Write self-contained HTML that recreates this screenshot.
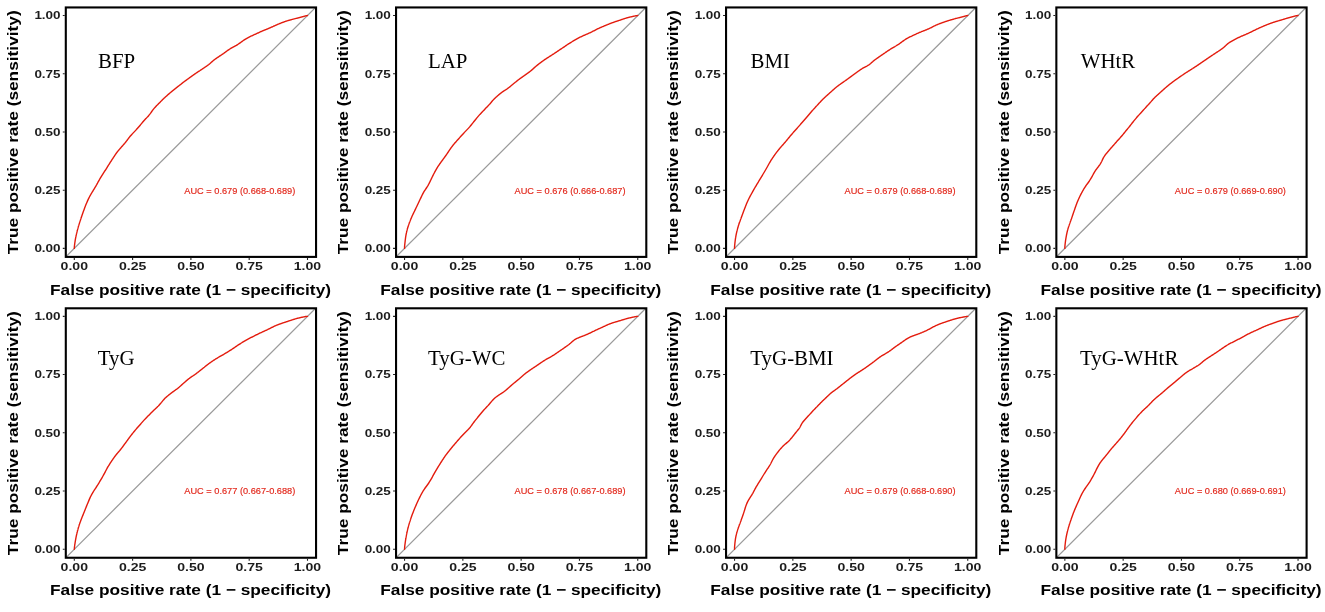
<!DOCTYPE html>
<html><head><meta charset="utf-8"><style>
html,body{margin:0;padding:0;background:#fff;width:1325px;height:612px;overflow:hidden}
svg{display:block;filter:blur(0.4px)}
.tl{font-family:"Liberation Sans",sans-serif;font-weight:bold;fill:#1c1c1c}
.ti{font-family:"Liberation Sans",sans-serif;font-weight:bold;fill:#000}
.lb{font-family:"Liberation Serif",serif;fill:#000}
.au{font-family:"Liberation Sans",sans-serif;fill:#E2261A;stroke:#E2261A;stroke-width:0.15px}
</style></head><body>
<svg width="1325" height="612" viewBox="0 0 1325 612">
<rect width="1325" height="612" fill="#fff"/>

<g transform="translate(0.00,0.00)">
<clipPath id="cp0"><rect x="65.80" y="7.45" width="250.25" height="249.45"/></clipPath>
<g clip-path="url(#cp0)"><line x1="50.98" y1="271.69" x2="330.82" y2="-7.79" stroke="#9A9A9A" stroke-width="1.25"/>
<path d="M74.30,248.40 L74.35,247.24 L74.40,246.44 L74.47,245.77 L74.54,245.15 L74.61,244.57 L74.68,244.03 L74.75,243.50 L74.81,243.00 L74.88,242.52 L74.95,242.05 L75.02,241.60 L75.09,241.15 L75.15,240.72 L75.22,240.30 L75.29,239.89 L75.36,239.48 L75.43,239.08 L75.50,238.69 L75.57,238.31 L75.64,237.94 L75.71,237.56 L75.78,237.20 L75.85,236.84 L75.93,236.49 L76.00,236.14 L76.07,235.79 L76.15,235.45 L76.22,235.12 L76.29,234.78 L76.37,234.45 L76.44,234.13 L76.52,233.81 L76.59,233.49 L76.67,233.17 L76.74,232.86 L76.81,232.55 L76.89,232.25 L76.96,231.94 L77.04,231.64 L77.11,231.34 L77.19,231.04 L77.26,230.75 L77.34,230.46 L77.41,230.17 L77.49,229.88 L77.56,229.60 L77.64,229.31 L77.71,229.03 L77.79,228.75 L77.86,228.47 L77.94,228.20 L78.01,227.92 L78.09,227.65 L78.16,227.38 L78.24,227.11 L78.31,226.85 L78.39,226.58 L78.46,226.32 L78.54,226.05 L78.62,225.79 L78.69,225.54 L78.77,225.28 L78.84,225.02 L78.92,224.77 L79.00,224.52 L79.07,224.27 L79.15,224.02 L79.23,223.77 L79.31,223.52 L79.38,223.27 L79.46,223.03 L79.54,222.79 L79.61,222.54 L79.69,222.30 L79.77,222.06 L79.85,221.82 L79.92,221.59 L80.00,221.35 L80.08,221.11 L80.15,220.88 L80.23,220.65 L80.31,220.41 L80.39,220.18 L80.46,219.95 L80.54,219.72 L80.61,219.49 L80.69,219.26 L80.77,219.03 L80.84,218.80 L80.92,218.58 L81.36,217.27 L81.80,215.99 L82.23,214.73 L82.66,213.50 L83.10,212.28 L83.52,211.08 L83.95,209.91 L84.38,208.75 L84.80,207.60 L85.23,206.48 L85.66,205.37 L86.09,204.28 L86.53,203.22 L86.98,202.17 L87.43,201.14 L87.88,200.13 L88.35,199.14 L88.82,198.17 L89.30,197.22 L89.79,196.29 L90.29,195.38 L90.79,194.48 L91.30,193.61 L91.82,192.75 L92.34,191.90 L92.86,191.05 L93.37,190.22 L93.89,189.39 L94.39,188.56 L94.90,187.74 L95.39,186.91 L95.87,186.08 L96.34,185.25 L96.81,184.42 L97.26,183.58 L97.71,182.75 L98.16,181.93 L98.61,181.11 L99.07,180.30 L99.53,179.50 L99.99,178.72 L100.46,177.94 L100.93,177.17 L101.39,176.41 L101.86,175.65 L102.34,174.90 L102.81,174.15 L103.28,173.41 L103.75,172.68 L104.22,171.95 L104.69,171.23 L105.16,170.50 L105.63,169.79 L106.09,169.07 L106.55,168.35 L107.00,167.63 L107.44,166.91 L107.89,166.18 L108.33,165.47 L108.77,164.75 L109.21,164.04 L109.65,163.34 L110.09,162.64 L110.54,161.95 L110.98,161.26 L111.43,160.58 L111.87,159.90 L112.32,159.22 L112.76,158.54 L113.20,157.86 L113.64,157.19 L114.08,156.52 L114.52,155.86 L114.96,155.20 L115.40,154.55 L115.85,153.90 L116.30,153.26 L116.76,152.64 L117.23,152.02 L117.71,151.42 L118.19,150.82 L118.68,150.24 L119.17,149.66 L119.66,149.08 L120.15,148.51 L120.65,147.94 L121.14,147.37 L121.63,146.81 L122.13,146.25 L122.62,145.70 L123.12,145.14 L123.61,144.59 L124.10,144.03 L124.58,143.48 L125.05,142.91 L125.52,142.34 L125.98,141.77 L126.43,141.19 L126.87,140.61 L127.31,140.02 L127.74,139.44 L128.18,138.85 L128.61,138.27 L129.05,137.69 L129.49,137.12 L129.94,136.56 L130.39,136.01 L130.86,135.47 L131.33,134.94 L131.81,134.42 L132.29,133.90 L132.78,133.39 L133.26,132.89 L133.75,132.38 L134.24,131.88 L134.72,131.37 L135.20,130.87 L135.67,130.36 L136.14,129.85 L136.61,129.34 L137.07,128.82 L137.53,128.31 L137.98,127.79 L138.43,127.27 L138.88,126.75 L139.32,126.23 L139.76,125.70 L140.20,125.18 L140.63,124.65 L141.06,124.13 L141.49,123.60 L141.93,123.08 L142.36,122.56 L142.80,122.05 L143.24,121.54 L143.68,121.04 L144.13,120.54 L144.58,120.05 L145.03,119.56 L145.48,119.07 L145.94,118.59 L146.39,118.11 L146.84,117.63 L147.29,117.14 L147.74,116.66 L148.18,116.17 L148.61,115.67 L149.03,115.17 L149.44,114.66 L149.85,114.14 L150.25,113.62 L150.63,113.09 L151.02,112.55 L151.40,112.02 L151.78,111.48 L152.16,110.95 L152.54,110.42 L152.93,109.90 L153.33,109.39 L153.73,108.89 L154.14,108.40 L154.56,107.91 L154.98,107.43 L155.41,106.96 L155.85,106.50 L156.28,106.04 L156.72,105.58 L157.16,105.13 L157.61,104.68 L158.05,104.24 L158.49,103.79 L158.94,103.34 L159.38,102.90 L159.82,102.45 L160.26,102.01 L160.69,101.56 L161.13,101.12 L161.57,100.68 L162.01,100.24 L162.45,99.80 L162.89,99.37 L163.33,98.94 L163.78,98.51 L164.23,98.09 L164.68,97.67 L165.13,97.25 L165.58,96.84 L166.04,96.42 L166.49,96.01 L166.95,95.61 L167.40,95.20 L167.86,94.80 L168.32,94.40 L168.78,94.00 L169.24,93.60 L169.70,93.21 L170.16,92.82 L170.63,92.43 L171.10,92.04 L171.57,91.66 L172.04,91.28 L172.51,90.91 L172.98,90.53 L173.45,90.16 L173.92,89.78 L174.39,89.41 L174.86,89.03 L175.32,88.66 L175.79,88.28 L176.25,87.91 L176.72,87.53 L177.18,87.16 L177.64,86.79 L178.11,86.42 L178.57,86.05 L179.04,85.68 L179.50,85.31 L179.96,84.95 L180.42,84.58 L180.89,84.22 L181.35,83.85 L181.81,83.49 L182.27,83.13 L182.73,82.77 L183.20,82.41 L183.66,82.06 L184.13,81.70 L184.60,81.36 L185.08,81.01 L185.55,80.67 L186.02,80.32 L186.49,79.98 L186.96,79.64 L187.43,79.30 L187.90,78.95 L188.36,78.61 L188.83,78.27 L189.29,77.92 L189.76,77.58 L190.23,77.24 L190.70,76.91 L191.16,76.57 L191.63,76.24 L192.10,75.91 L192.57,75.58 L193.04,75.25 L193.51,74.92 L193.98,74.59 L194.45,74.27 L194.92,73.94 L195.39,73.61 L195.86,73.29 L196.33,72.97 L196.80,72.65 L197.27,72.33 L197.75,72.01 L198.22,71.70 L198.70,71.39 L199.18,71.08 L199.66,70.78 L200.13,70.47 L200.60,70.15 L201.07,69.84 L201.54,69.53 L202.01,69.21 L202.47,68.90 L202.94,68.58 L203.40,68.27 L203.86,67.95 L204.32,67.64 L204.79,67.33 L205.25,67.02 L205.71,66.71 L206.17,66.39 L206.63,66.08 L207.08,65.76 L207.53,65.44 L207.98,65.12 L208.42,64.79 L208.85,64.46 L209.27,64.12 L209.69,63.77 L210.11,63.42 L210.51,63.06 L210.91,62.70 L211.31,62.34 L211.71,61.98 L212.11,61.62 L212.51,61.26 L212.92,60.91 L213.33,60.56 L213.75,60.23 L214.17,59.89 L214.60,59.56 L215.03,59.24 L215.47,58.93 L215.90,58.61 L216.35,58.30 L216.79,58.00 L217.24,57.70 L217.68,57.39 L218.13,57.10 L218.58,56.80 L219.03,56.50 L219.48,56.21 L219.93,55.91 L220.38,55.62 L220.83,55.33 L221.28,55.03 L221.72,54.74 L222.16,54.44 L222.60,54.14 L223.04,53.84 L223.48,53.54 L223.91,53.23 L224.33,52.92 L224.76,52.61 L225.18,52.30 L225.60,51.99 L226.02,51.68 L226.44,51.36 L226.86,51.05 L227.28,50.75 L227.71,50.44 L228.13,50.14 L228.57,49.85 L229.00,49.56 L229.44,49.27 L229.89,48.99 L230.34,48.72 L230.79,48.44 L231.24,48.18 L231.70,47.91 L232.16,47.65 L232.62,47.39 L233.08,47.14 L233.55,46.88 L234.01,46.63 L234.47,46.37 L234.93,46.12 L235.39,45.86 L235.85,45.61 L236.31,45.35 L236.75,45.08 L237.20,44.81 L237.64,44.54 L238.07,44.27 L238.50,43.99 L238.93,43.70 L239.35,43.41 L239.76,43.12 L240.17,42.83 L240.58,42.53 L240.99,42.23 L241.40,41.94 L241.80,41.64 L242.21,41.34 L242.62,41.05 L243.03,40.76 L243.44,40.47 L243.85,40.18 L244.27,39.90 L244.69,39.63 L245.12,39.35 L245.54,39.09 L245.98,38.82 L246.41,38.56 L246.85,38.31 L247.29,38.06 L247.74,37.82 L248.19,37.57 L248.65,37.34 L249.11,37.11 L249.57,36.88 L250.03,36.65 L250.49,36.43 L250.96,36.21 L251.42,35.99 L251.89,35.77 L252.36,35.55 L252.82,35.33 L253.29,35.12 L253.76,34.90 L254.23,34.69 L254.69,34.48 L255.16,34.26 L255.63,34.05 L256.09,33.84 L256.56,33.62 L257.02,33.41 L257.49,33.20 L257.95,32.99 L258.41,32.77 L258.87,32.56 L259.33,32.35 L259.79,32.14 L260.25,31.93 L260.72,31.72 L261.18,31.51 L261.64,31.31 L262.11,31.10 L262.57,30.90 L263.04,30.70 L263.51,30.51 L263.98,30.31 L264.45,30.12 L264.92,29.93 L265.39,29.73 L265.87,29.55 L266.34,29.36 L266.81,29.17 L267.28,28.98 L267.75,28.79 L268.21,28.60 L268.68,28.40 L269.14,28.21 L269.60,28.01 L270.06,27.82 L270.51,27.62 L270.96,27.41 L271.41,27.21 L271.86,27.01 L272.31,26.80 L272.75,26.60 L273.20,26.40 L273.64,26.19 L274.09,25.99 L274.53,25.79 L274.98,25.59 L275.42,25.39 L275.87,25.19 L276.32,25.00 L276.76,24.80 L277.21,24.61 L277.66,24.42 L278.11,24.23 L278.56,24.04 L279.01,23.86 L279.47,23.67 L279.92,23.49 L280.37,23.31 L280.83,23.12 L281.28,22.95 L281.74,22.77 L282.20,22.59 L282.65,22.42 L283.11,22.25 L283.57,22.08 L284.03,21.91 L284.50,21.75 L284.96,21.59 L285.42,21.43 L285.89,21.27 L286.36,21.12 L286.83,20.96 L287.30,20.81 L287.77,20.66 L288.25,20.52 L288.72,20.38 L289.20,20.24 L289.68,20.10 L290.16,19.96 L290.64,19.83 L291.12,19.70 L291.60,19.57 L292.08,19.44 L292.57,19.31 L293.05,19.18 L293.53,19.06 L294.02,18.93 L294.50,18.81 L294.98,18.69 L295.46,18.56 L295.94,18.44 L296.42,18.32 L296.90,18.20 L297.37,18.08 L297.85,17.95 L298.32,17.83 L298.79,17.71 L299.26,17.58 L299.73,17.46 L300.19,17.34 L300.66,17.21 L301.12,17.09 L301.58,16.97 L302.04,16.84 L302.50,16.72 L302.96,16.60 L303.42,16.48 L303.87,16.36 L304.33,16.24 L304.78,16.12 L305.24,16.01 L305.69,15.90 L306.14,15.79 L306.60,15.69 L307.05,15.59 L307.50,15.50 L307.50,15.50" fill="none" stroke="#E31B0D" stroke-width="1.4" stroke-linejoin="round" stroke-linecap="round"/></g>
<rect x="65.80" y="7.45" width="250.25" height="249.45" fill="none" stroke="#000" stroke-width="2.1"/>
<path d="M74.30,257.95V259.90M64.75,248.40H62.80M132.60,257.95V259.90M64.75,190.18H62.80M190.90,257.95V259.90M64.75,131.95H62.80M249.20,257.95V259.90M64.75,73.72H62.80M307.50,257.95V259.90M64.75,15.50H62.80" stroke="#222" stroke-width="1.1"/>
<text class="tl" x="74.30" y="270.2" font-size="11.4" text-anchor="middle" textLength="27.4" lengthAdjust="spacingAndGlyphs">0.00</text>
<text class="tl" x="60.6" y="252.20" font-size="11.4" text-anchor="end" textLength="26.2" lengthAdjust="spacingAndGlyphs">0.00</text>
<text class="tl" x="132.60" y="270.2" font-size="11.4" text-anchor="middle" textLength="27.4" lengthAdjust="spacingAndGlyphs">0.25</text>
<text class="tl" x="60.6" y="193.98" font-size="11.4" text-anchor="end" textLength="26.2" lengthAdjust="spacingAndGlyphs">0.25</text>
<text class="tl" x="190.90" y="270.2" font-size="11.4" text-anchor="middle" textLength="27.4" lengthAdjust="spacingAndGlyphs">0.50</text>
<text class="tl" x="60.6" y="135.75" font-size="11.4" text-anchor="end" textLength="26.2" lengthAdjust="spacingAndGlyphs">0.50</text>
<text class="tl" x="249.20" y="270.2" font-size="11.4" text-anchor="middle" textLength="27.4" lengthAdjust="spacingAndGlyphs">0.75</text>
<text class="tl" x="60.6" y="77.52" font-size="11.4" text-anchor="end" textLength="26.2" lengthAdjust="spacingAndGlyphs">0.75</text>
<text class="tl" x="307.50" y="270.2" font-size="11.4" text-anchor="middle" textLength="27.4" lengthAdjust="spacingAndGlyphs">1.00</text>
<text class="tl" x="60.6" y="19.30" font-size="11.4" text-anchor="end" textLength="26.2" lengthAdjust="spacingAndGlyphs">1.00</text>
<text class="ti" x="190.5" y="294.6" font-size="15.4" text-anchor="middle" textLength="281" lengthAdjust="spacingAndGlyphs">False positive rate (1 &#8722; specificity)</text>
<text class="ti" transform="translate(18.1,132.3) rotate(-90)" x="0" y="0" font-size="14.8" text-anchor="middle" textLength="244" lengthAdjust="spacingAndGlyphs">True positive rate (sensitivity)</text>
<text class="au" x="184.3" y="193.6" font-size="8.9" textLength="111" lengthAdjust="spacingAndGlyphs">AUC = 0.679 (0.668-0.689)</text>
</g>
<text class="lb" x="98.00" y="68.00" font-size="20.9">BFP</text>
<g transform="translate(330.25,0.00)">
<clipPath id="cp1"><rect x="65.80" y="7.45" width="250.25" height="249.45"/></clipPath>
<g clip-path="url(#cp1)"><line x1="50.98" y1="271.69" x2="330.82" y2="-7.79" stroke="#9A9A9A" stroke-width="1.25"/>
<path d="M74.30,248.40 L74.31,247.29 L74.32,246.50 L74.38,245.85 L74.44,245.25 L74.50,244.69 L74.55,244.16 L74.61,243.65 L74.66,243.15 L74.72,242.68 L74.77,242.21 L74.82,241.76 L74.87,241.31 L74.92,240.88 L74.97,240.45 L75.02,240.03 L75.07,239.62 L75.12,239.22 L75.17,238.82 L75.22,238.43 L75.27,238.05 L75.32,237.67 L75.38,237.30 L75.43,236.93 L75.48,236.57 L75.54,236.21 L75.60,235.86 L75.65,235.51 L75.71,235.17 L75.77,234.84 L75.84,234.50 L75.90,234.18 L75.96,233.85 L76.02,233.53 L76.09,233.21 L76.16,232.90 L76.22,232.59 L76.29,232.29 L76.36,231.98 L76.43,231.68 L76.50,231.39 L76.57,231.09 L76.64,230.80 L76.71,230.52 L76.79,230.23 L76.86,229.95 L76.93,229.67 L77.01,229.39 L77.08,229.12 L77.16,228.84 L77.24,228.57 L77.31,228.31 L77.39,228.04 L77.47,227.78 L77.55,227.52 L77.63,227.26 L77.71,227.00 L77.79,226.74 L77.87,226.49 L77.95,226.24 L78.03,225.99 L78.11,225.74 L78.19,225.49 L78.28,225.25 L78.36,225.00 L78.44,224.76 L78.52,224.52 L78.61,224.28 L78.69,224.05 L78.77,223.81 L78.86,223.57 L78.94,223.34 L79.03,223.11 L79.11,222.88 L79.19,222.65 L79.28,222.42 L79.36,222.19 L79.45,221.97 L79.53,221.74 L79.62,221.52 L79.71,221.30 L79.79,221.08 L79.88,220.86 L79.96,220.64 L80.05,220.42 L80.14,220.20 L80.22,219.99 L80.31,219.77 L80.40,219.56 L80.48,219.34 L80.57,219.13 L81.08,217.92 L81.60,216.73 L82.12,215.57 L82.64,214.44 L83.17,213.34 L83.70,212.26 L84.22,211.19 L84.74,210.13 L85.25,209.09 L85.75,208.04 L86.24,207.01 L86.73,205.98 L87.20,204.96 L87.68,203.95 L88.15,202.95 L88.62,201.96 L89.08,200.98 L89.55,200.01 L90.01,199.05 L90.47,198.09 L90.92,197.14 L91.37,196.20 L91.82,195.27 L92.27,194.35 L92.74,193.44 L93.22,192.57 L93.71,191.72 L94.23,190.89 L94.76,190.09 L95.29,189.30 L95.83,188.52 L96.35,187.74 L96.87,186.95 L97.36,186.14 L97.83,185.33 L98.28,184.50 L98.73,183.67 L99.16,182.83 L99.58,181.99 L99.99,181.15 L100.40,180.31 L100.80,179.47 L101.20,178.63 L101.60,177.80 L102.00,176.97 L102.40,176.15 L102.80,175.34 L103.21,174.53 L103.62,173.74 L104.04,172.96 L104.45,172.18 L104.87,171.41 L105.29,170.64 L105.72,169.88 L106.14,169.13 L106.58,168.39 L107.02,167.66 L107.46,166.95 L107.92,166.24 L108.38,165.55 L108.85,164.86 L109.32,164.19 L109.79,163.52 L110.26,162.85 L110.74,162.19 L111.21,161.53 L111.69,160.88 L112.16,160.23 L112.63,159.58 L113.10,158.94 L113.57,158.29 L114.04,157.65 L114.51,157.01 L114.97,156.37 L115.43,155.73 L115.88,155.09 L116.33,154.44 L116.77,153.80 L117.21,153.15 L117.65,152.50 L118.08,151.85 L118.51,151.20 L118.93,150.56 L119.36,149.91 L119.79,149.28 L120.23,148.65 L120.66,148.02 L121.11,147.41 L121.56,146.80 L122.02,146.20 L122.48,145.61 L122.94,145.03 L123.41,144.46 L123.89,143.89 L124.37,143.33 L124.85,142.77 L125.33,142.22 L125.82,141.67 L126.30,141.13 L126.79,140.59 L127.28,140.05 L127.76,139.52 L128.24,138.98 L128.72,138.44 L129.20,137.90 L129.68,137.36 L130.15,136.83 L130.63,136.30 L131.10,135.77 L131.58,135.24 L132.05,134.71 L132.53,134.19 L133.01,133.67 L133.49,133.16 L133.96,132.64 L134.44,132.13 L134.93,131.63 L135.41,131.12 L135.89,130.62 L136.38,130.13 L136.86,129.63 L137.34,129.13 L137.82,128.63 L138.29,128.13 L138.75,127.62 L139.21,127.11 L139.66,126.59 L140.10,126.07 L140.53,125.54 L140.96,125.01 L141.39,124.47 L141.81,123.93 L142.23,123.40 L142.65,122.87 L143.07,122.33 L143.49,121.81 L143.91,121.28 L144.34,120.75 L144.76,120.23 L145.18,119.71 L145.60,119.19 L146.02,118.67 L146.44,118.15 L146.86,117.63 L147.28,117.12 L147.71,116.61 L148.13,116.11 L148.57,115.61 L149.00,115.12 L149.44,114.63 L149.89,114.15 L150.33,113.68 L150.78,113.21 L151.24,112.74 L151.69,112.27 L152.14,111.81 L152.59,111.34 L153.03,110.87 L153.48,110.41 L153.92,109.94 L154.35,109.47 L154.79,109.00 L155.23,108.53 L155.67,108.07 L156.12,107.61 L156.56,107.15 L157.00,106.69 L157.45,106.24 L157.89,105.78 L158.32,105.33 L158.76,104.86 L159.18,104.40 L159.60,103.92 L160.01,103.45 L160.41,102.96 L160.82,102.48 L161.22,101.99 L161.62,101.51 L162.02,101.03 L162.43,100.56 L162.85,100.10 L163.27,99.64 L163.70,99.19 L164.14,98.76 L164.58,98.33 L165.03,97.90 L165.48,97.48 L165.94,97.07 L166.40,96.66 L166.86,96.26 L167.32,95.85 L167.78,95.45 L168.25,95.05 L168.71,94.65 L169.18,94.26 L169.65,93.86 L170.12,93.48 L170.60,93.10 L171.08,92.72 L171.56,92.35 L172.06,91.99 L172.56,91.64 L173.07,91.30 L173.58,90.96 L174.10,90.63 L174.62,90.31 L175.14,89.98 L175.66,89.66 L176.18,89.32 L176.68,88.99 L177.18,88.64 L177.67,88.29 L178.15,87.94 L178.62,87.57 L179.09,87.20 L179.55,86.83 L180.01,86.45 L180.47,86.07 L180.92,85.69 L181.37,85.32 L181.82,84.94 L182.27,84.56 L182.73,84.18 L183.18,83.81 L183.63,83.43 L184.08,83.06 L184.54,82.69 L184.99,82.32 L185.45,81.96 L185.90,81.59 L186.36,81.23 L186.82,80.87 L187.28,80.51 L187.74,80.16 L188.20,79.81 L188.66,79.45 L189.12,79.11 L189.59,78.76 L190.06,78.42 L190.53,78.08 L191.00,77.74 L191.47,77.41 L191.95,77.07 L192.42,76.74 L192.89,76.41 L193.37,76.08 L193.84,75.75 L194.31,75.42 L194.78,75.09 L195.24,74.76 L195.71,74.43 L196.18,74.09 L196.64,73.76 L197.11,73.43 L197.57,73.10 L198.03,72.77 L198.49,72.44 L198.95,72.10 L199.40,71.76 L199.85,71.42 L200.29,71.07 L200.72,70.72 L201.15,70.36 L201.57,70.00 L201.99,69.63 L202.40,69.26 L202.81,68.89 L203.21,68.51 L203.62,68.13 L204.02,67.76 L204.43,67.38 L204.84,67.02 L205.25,66.65 L205.66,66.29 L206.09,65.94 L206.51,65.59 L206.94,65.24 L207.37,64.90 L207.80,64.57 L208.24,64.23 L208.67,63.90 L209.11,63.56 L209.54,63.23 L209.98,62.90 L210.42,62.57 L210.85,62.24 L211.29,61.91 L211.73,61.59 L212.17,61.27 L212.61,60.95 L213.05,60.63 L213.50,60.32 L213.95,60.01 L214.40,59.70 L214.85,59.39 L215.30,59.09 L215.76,58.79 L216.21,58.49 L216.67,58.20 L217.13,57.90 L217.59,57.61 L218.05,57.32 L218.51,57.03 L218.96,56.74 L219.42,56.44 L219.88,56.15 L220.33,55.86 L220.78,55.57 L221.23,55.28 L221.69,54.98 L222.14,54.69 L222.58,54.40 L223.03,54.10 L223.48,53.81 L223.93,53.52 L224.37,53.22 L224.81,52.93 L225.26,52.63 L225.70,52.34 L226.14,52.05 L226.58,51.75 L227.02,51.46 L227.46,51.16 L227.90,50.87 L228.33,50.58 L228.77,50.28 L229.21,49.99 L229.65,49.70 L230.09,49.41 L230.52,49.12 L230.96,48.83 L231.40,48.54 L231.83,48.26 L232.27,47.97 L232.70,47.68 L233.14,47.39 L233.57,47.10 L234.00,46.81 L234.42,46.52 L234.85,46.22 L235.28,45.93 L235.70,45.64 L236.12,45.35 L236.55,45.05 L236.97,44.77 L237.40,44.48 L237.83,44.19 L238.26,43.91 L238.69,43.63 L239.13,43.36 L239.56,43.08 L240.00,42.81 L240.44,42.54 L240.88,42.28 L241.32,42.01 L241.77,41.75 L242.21,41.49 L242.65,41.22 L243.09,40.96 L243.54,40.70 L243.98,40.45 L244.42,40.19 L244.87,39.93 L245.31,39.68 L245.76,39.42 L246.20,39.17 L246.64,38.91 L247.09,38.66 L247.54,38.42 L247.99,38.17 L248.44,37.93 L248.89,37.69 L249.35,37.45 L249.80,37.22 L250.26,36.99 L250.73,36.76 L251.19,36.54 L251.66,36.32 L252.13,36.10 L252.61,35.88 L253.08,35.67 L253.55,35.46 L254.03,35.25 L254.51,35.05 L254.98,34.84 L255.46,34.64 L255.94,34.43 L256.41,34.23 L256.89,34.02 L257.36,33.82 L257.83,33.61 L258.30,33.40 L258.77,33.19 L259.24,32.98 L259.70,32.77 L260.16,32.56 L260.62,32.34 L261.07,32.12 L261.52,31.90 L261.97,31.68 L262.41,31.45 L262.85,31.22 L263.29,30.99 L263.72,30.76 L264.16,30.53 L264.60,30.30 L265.03,30.07 L265.47,29.84 L265.90,29.61 L266.34,29.39 L266.78,29.17 L267.23,28.95 L267.67,28.74 L268.12,28.52 L268.57,28.32 L269.02,28.11 L269.48,27.91 L269.93,27.71 L270.39,27.51 L270.84,27.31 L271.30,27.11 L271.76,26.92 L272.22,26.72 L272.67,26.53 L273.13,26.34 L273.59,26.14 L274.05,25.95 L274.50,25.76 L274.96,25.57 L275.42,25.38 L275.87,25.19 L276.33,25.00 L276.78,24.81 L277.24,24.63 L277.69,24.44 L278.15,24.25 L278.60,24.07 L279.06,23.89 L279.51,23.70 L279.97,23.52 L280.43,23.34 L280.89,23.17 L281.35,22.99 L281.81,22.82 L282.27,22.65 L282.74,22.49 L283.20,22.32 L283.67,22.16 L284.14,22.00 L284.61,21.84 L285.08,21.69 L285.55,21.53 L286.03,21.38 L286.50,21.23 L286.97,21.08 L287.44,20.92 L287.91,20.77 L288.37,20.62 L288.84,20.46 L289.30,20.31 L289.76,20.15 L290.22,20.00 L290.68,19.84 L291.13,19.68 L291.59,19.52 L292.04,19.37 L292.50,19.21 L292.95,19.05 L293.40,18.90 L293.86,18.75 L294.31,18.60 L294.77,18.45 L295.23,18.30 L295.69,18.16 L296.15,18.03 L296.62,17.89 L297.08,17.76 L297.55,17.63 L298.03,17.51 L298.50,17.39 L298.97,17.27 L299.45,17.16 L299.92,17.04 L300.40,16.93 L300.88,16.82 L301.35,16.72 L301.83,16.61 L302.31,16.50 L302.78,16.40 L303.25,16.30 L303.72,16.19 L304.19,16.09 L304.66,15.99 L305.13,15.89 L305.59,15.79 L306.07,15.71 L306.55,15.64 L307.03,15.57 L307.50,15.50 L307.50,15.50" fill="none" stroke="#E31B0D" stroke-width="1.4" stroke-linejoin="round" stroke-linecap="round"/></g>
<rect x="65.80" y="7.45" width="250.25" height="249.45" fill="none" stroke="#000" stroke-width="2.1"/>
<path d="M74.30,257.95V259.90M64.75,248.40H62.80M132.60,257.95V259.90M64.75,190.18H62.80M190.90,257.95V259.90M64.75,131.95H62.80M249.20,257.95V259.90M64.75,73.72H62.80M307.50,257.95V259.90M64.75,15.50H62.80" stroke="#222" stroke-width="1.1"/>
<text class="tl" x="74.30" y="270.2" font-size="11.4" text-anchor="middle" textLength="27.4" lengthAdjust="spacingAndGlyphs">0.00</text>
<text class="tl" x="60.6" y="252.20" font-size="11.4" text-anchor="end" textLength="26.2" lengthAdjust="spacingAndGlyphs">0.00</text>
<text class="tl" x="132.60" y="270.2" font-size="11.4" text-anchor="middle" textLength="27.4" lengthAdjust="spacingAndGlyphs">0.25</text>
<text class="tl" x="60.6" y="193.98" font-size="11.4" text-anchor="end" textLength="26.2" lengthAdjust="spacingAndGlyphs">0.25</text>
<text class="tl" x="190.90" y="270.2" font-size="11.4" text-anchor="middle" textLength="27.4" lengthAdjust="spacingAndGlyphs">0.50</text>
<text class="tl" x="60.6" y="135.75" font-size="11.4" text-anchor="end" textLength="26.2" lengthAdjust="spacingAndGlyphs">0.50</text>
<text class="tl" x="249.20" y="270.2" font-size="11.4" text-anchor="middle" textLength="27.4" lengthAdjust="spacingAndGlyphs">0.75</text>
<text class="tl" x="60.6" y="77.52" font-size="11.4" text-anchor="end" textLength="26.2" lengthAdjust="spacingAndGlyphs">0.75</text>
<text class="tl" x="307.50" y="270.2" font-size="11.4" text-anchor="middle" textLength="27.4" lengthAdjust="spacingAndGlyphs">1.00</text>
<text class="tl" x="60.6" y="19.30" font-size="11.4" text-anchor="end" textLength="26.2" lengthAdjust="spacingAndGlyphs">1.00</text>
<text class="ti" x="190.5" y="294.6" font-size="15.4" text-anchor="middle" textLength="281" lengthAdjust="spacingAndGlyphs">False positive rate (1 &#8722; specificity)</text>
<text class="ti" transform="translate(18.1,132.3) rotate(-90)" x="0" y="0" font-size="14.8" text-anchor="middle" textLength="244" lengthAdjust="spacingAndGlyphs">True positive rate (sensitivity)</text>
<text class="au" x="184.3" y="193.6" font-size="8.9" textLength="111" lengthAdjust="spacingAndGlyphs">AUC = 0.676 (0.666-0.687)</text>
</g>
<text class="lb" x="427.90" y="68.10" font-size="20.9">LAP</text>
<g transform="translate(660.25,0.00)">
<clipPath id="cp2"><rect x="65.80" y="7.45" width="250.25" height="249.45"/></clipPath>
<g clip-path="url(#cp2)"><line x1="50.98" y1="271.69" x2="330.82" y2="-7.79" stroke="#9A9A9A" stroke-width="1.25"/>
<path d="M74.30,248.40 L74.31,247.14 L74.35,246.29 L74.41,245.59 L74.47,244.94 L74.53,244.34 L74.59,243.77 L74.64,243.22 L74.70,242.70 L74.76,242.19 L74.82,241.71 L74.88,241.23 L74.93,240.77 L74.99,240.32 L75.05,239.87 L75.11,239.44 L75.17,239.02 L75.23,238.61 L75.29,238.20 L75.35,237.80 L75.42,237.41 L75.48,237.02 L75.54,236.65 L75.61,236.27 L75.67,235.91 L75.74,235.54 L75.81,235.19 L75.88,234.84 L75.94,234.49 L76.01,234.15 L76.08,233.81 L76.15,233.48 L76.22,233.15 L76.30,232.82 L76.37,232.50 L76.44,232.18 L76.51,231.86 L76.59,231.55 L76.66,231.24 L76.74,230.94 L76.81,230.64 L76.89,230.34 L76.96,230.04 L77.04,229.74 L77.11,229.45 L77.19,229.16 L77.27,228.88 L77.35,228.59 L77.42,228.31 L77.50,228.03 L77.58,227.76 L77.66,227.48 L77.74,227.21 L77.82,226.94 L77.90,226.67 L77.98,226.40 L78.06,226.14 L78.14,225.88 L78.22,225.61 L78.31,225.36 L78.39,225.10 L78.47,224.84 L78.55,224.59 L78.63,224.34 L78.72,224.09 L78.80,223.84 L78.88,223.59 L78.96,223.34 L79.05,223.10 L79.13,222.85 L79.21,222.61 L79.29,222.37 L79.38,222.13 L79.46,221.89 L79.54,221.65 L79.63,221.42 L79.71,221.18 L79.79,220.95 L79.88,220.72 L79.96,220.48 L80.04,220.25 L80.13,220.02 L80.21,219.80 L80.29,219.57 L80.37,219.34 L80.46,219.11 L80.54,218.89 L80.62,218.67 L80.70,218.44 L80.79,218.22 L80.87,218.00 L81.35,216.72 L81.82,215.46 L82.28,214.22 L82.74,213.00 L83.19,211.80 L83.64,210.62 L84.08,209.45 L84.51,208.29 L84.95,207.15 L85.39,206.03 L85.82,204.93 L86.27,203.85 L86.72,202.79 L87.17,201.75 L87.64,200.73 L88.11,199.73 L88.59,198.76 L89.07,197.80 L89.56,196.85 L90.05,195.92 L90.55,195.01 L91.05,194.11 L91.54,193.21 L92.04,192.33 L92.53,191.45 L93.02,190.58 L93.50,189.71 L93.99,188.86 L94.48,188.01 L94.97,187.17 L95.46,186.34 L95.95,185.52 L96.44,184.71 L96.93,183.90 L97.42,183.10 L97.90,182.30 L98.38,181.50 L98.85,180.71 L99.33,179.92 L99.80,179.14 L100.27,178.35 L100.73,177.58 L101.20,176.81 L101.66,176.04 L102.12,175.27 L102.58,174.51 L103.04,173.75 L103.49,173.00 L103.94,172.24 L104.39,171.49 L104.83,170.74 L105.27,169.99 L105.70,169.24 L106.13,168.49 L106.56,167.74 L106.98,166.99 L107.39,166.24 L107.80,165.49 L108.21,164.74 L108.62,163.99 L109.03,163.26 L109.45,162.53 L109.87,161.81 L110.30,161.11 L110.74,160.41 L111.17,159.72 L111.62,159.04 L112.06,158.37 L112.51,157.70 L112.96,157.03 L113.41,156.38 L113.86,155.72 L114.32,155.08 L114.78,154.44 L115.24,153.80 L115.70,153.17 L116.16,152.55 L116.63,151.93 L117.11,151.32 L117.58,150.72 L118.06,150.12 L118.54,149.53 L119.02,148.95 L119.51,148.36 L119.99,147.79 L120.48,147.22 L120.97,146.65 L121.46,146.09 L121.96,145.53 L122.46,144.98 L122.95,144.43 L123.44,143.88 L123.93,143.33 L124.42,142.78 L124.90,142.22 L125.37,141.66 L125.84,141.10 L126.30,140.54 L126.76,139.98 L127.22,139.41 L127.68,138.85 L128.14,138.29 L128.59,137.73 L129.05,137.18 L129.50,136.62 L129.96,136.07 L130.42,135.53 L130.88,134.99 L131.34,134.45 L131.80,133.92 L132.27,133.39 L132.73,132.86 L133.20,132.33 L133.66,131.81 L134.13,131.29 L134.59,130.77 L135.05,130.25 L135.51,129.73 L135.97,129.21 L136.43,128.69 L136.89,128.18 L137.34,127.66 L137.80,127.15 L138.25,126.64 L138.71,126.12 L139.16,125.61 L139.61,125.10 L140.06,124.59 L140.51,124.09 L140.95,123.58 L141.40,123.07 L141.85,122.56 L142.29,122.06 L142.73,121.55 L143.18,121.05 L143.62,120.55 L144.06,120.05 L144.50,119.55 L144.93,119.04 L145.37,118.54 L145.80,118.04 L146.23,117.54 L146.66,117.04 L147.09,116.54 L147.52,116.03 L147.94,115.53 L148.37,115.03 L148.79,114.54 L149.21,114.04 L149.64,113.54 L150.06,113.04 L150.47,112.55 L150.89,112.05 L151.31,111.56 L151.73,111.06 L152.15,110.57 L152.57,110.09 L153.00,109.61 L153.42,109.13 L153.85,108.66 L154.28,108.18 L154.72,107.72 L155.15,107.25 L155.58,106.78 L156.01,106.32 L156.44,105.85 L156.87,105.39 L157.29,104.92 L157.72,104.46 L158.15,104.00 L158.57,103.54 L159.00,103.08 L159.42,102.62 L159.84,102.16 L160.27,101.70 L160.69,101.25 L161.12,100.79 L161.55,100.35 L161.98,99.90 L162.42,99.47 L162.86,99.03 L163.30,98.61 L163.75,98.18 L164.20,97.76 L164.65,97.34 L165.10,96.93 L165.55,96.52 L166.00,96.10 L166.45,95.69 L166.91,95.28 L167.36,94.88 L167.81,94.47 L168.26,94.06 L168.71,93.66 L169.16,93.26 L169.61,92.85 L170.06,92.45 L170.51,92.05 L170.96,91.65 L171.41,91.25 L171.85,90.84 L172.30,90.44 L172.74,90.04 L173.18,89.64 L173.63,89.25 L174.07,88.85 L174.52,88.46 L174.97,88.07 L175.42,87.68 L175.88,87.30 L176.34,86.93 L176.81,86.56 L177.27,86.20 L177.75,85.84 L178.22,85.49 L178.70,85.14 L179.19,84.79 L179.67,84.45 L180.16,84.11 L180.64,83.77 L181.13,83.43 L181.61,83.09 L182.09,82.75 L182.57,82.41 L183.05,82.07 L183.53,81.73 L184.01,81.39 L184.49,81.05 L184.97,80.72 L185.44,80.38 L185.92,80.05 L186.40,79.71 L186.87,79.38 L187.35,79.04 L187.82,78.70 L188.29,78.36 L188.75,78.02 L189.22,77.68 L189.68,77.34 L190.14,77.00 L190.60,76.66 L191.06,76.32 L191.52,75.98 L191.98,75.64 L192.44,75.30 L192.90,74.96 L193.36,74.62 L193.82,74.28 L194.27,73.95 L194.73,73.61 L195.19,73.28 L195.65,72.94 L196.10,72.61 L196.56,72.28 L197.02,71.95 L197.48,71.62 L197.94,71.29 L198.40,70.97 L198.86,70.65 L199.33,70.33 L199.79,70.01 L200.26,69.70 L200.73,69.38 L201.20,69.08 L201.67,68.77 L202.15,68.47 L202.64,68.18 L203.12,67.89 L203.62,67.61 L204.12,67.34 L204.62,67.07 L205.13,66.81 L205.64,66.54 L206.15,66.28 L206.66,66.02 L207.15,65.75 L207.64,65.47 L208.12,65.17 L208.58,64.87 L209.03,64.56 L209.47,64.23 L209.89,63.89 L210.31,63.55 L210.71,63.19 L211.12,62.83 L211.52,62.47 L211.91,62.11 L212.32,61.76 L212.72,61.40 L213.13,61.06 L213.54,60.72 L213.96,60.38 L214.39,60.06 L214.82,59.73 L215.25,59.41 L215.69,59.10 L216.12,58.78 L216.56,58.47 L217.00,58.16 L217.44,57.85 L217.88,57.55 L218.32,57.24 L218.76,56.94 L219.20,56.63 L219.64,56.33 L220.08,56.02 L220.51,55.72 L220.95,55.42 L221.39,55.12 L221.83,54.82 L222.27,54.52 L222.71,54.22 L223.15,53.92 L223.58,53.62 L224.02,53.32 L224.45,53.02 L224.89,52.73 L225.32,52.43 L225.75,52.13 L226.19,51.83 L226.62,51.53 L227.05,51.24 L227.49,50.95 L227.93,50.66 L228.36,50.37 L228.80,50.08 L229.25,49.80 L229.69,49.52 L230.13,49.24 L230.58,48.96 L231.02,48.68 L231.47,48.41 L231.92,48.14 L232.37,47.87 L232.82,47.60 L233.27,47.33 L233.72,47.07 L234.17,46.80 L234.63,46.54 L235.08,46.27 L235.53,46.01 L235.98,45.75 L236.42,45.48 L236.86,45.21 L237.30,44.94 L237.74,44.67 L238.17,44.39 L238.59,44.10 L239.02,43.82 L239.43,43.52 L239.84,43.23 L240.25,42.93 L240.66,42.63 L241.06,42.33 L241.46,42.03 L241.86,41.73 L242.27,41.44 L242.67,41.14 L243.08,40.85 L243.49,40.56 L243.90,40.27 L244.31,39.99 L244.73,39.71 L245.15,39.43 L245.58,39.16 L246.01,38.90 L246.44,38.64 L246.88,38.38 L247.33,38.14 L247.77,37.89 L248.22,37.65 L248.68,37.42 L249.14,37.18 L249.59,36.96 L250.06,36.73 L250.52,36.51 L250.98,36.28 L251.45,36.06 L251.92,35.85 L252.38,35.63 L252.85,35.41 L253.31,35.19 L253.78,34.98 L254.24,34.76 L254.71,34.55 L255.17,34.33 L255.64,34.12 L256.10,33.90 L256.56,33.69 L257.03,33.48 L257.49,33.27 L257.96,33.06 L258.43,32.85 L258.90,32.65 L259.37,32.45 L259.84,32.25 L260.31,32.05 L260.79,31.86 L261.26,31.66 L261.74,31.47 L262.22,31.28 L262.70,31.09 L263.17,30.90 L263.65,30.72 L264.13,30.53 L264.61,30.35 L265.09,30.16 L265.56,29.97 L266.04,29.79 L266.51,29.60 L266.98,29.41 L267.45,29.21 L267.91,29.02 L268.36,28.82 L268.82,28.61 L269.27,28.41 L269.71,28.19 L270.15,27.98 L270.59,27.76 L271.02,27.54 L271.45,27.32 L271.88,27.10 L272.31,26.88 L272.74,26.66 L273.16,26.44 L273.60,26.22 L274.03,26.00 L274.46,25.79 L274.90,25.58 L275.34,25.38 L275.78,25.17 L276.22,24.98 L276.67,24.78 L277.12,24.59 L277.57,24.40 L278.02,24.21 L278.48,24.03 L278.94,23.85 L279.39,23.67 L279.85,23.49 L280.32,23.32 L280.78,23.14 L281.24,22.97 L281.71,22.81 L282.17,22.64 L282.64,22.48 L283.11,22.31 L283.57,22.15 L284.04,21.99 L284.51,21.83 L284.98,21.67 L285.45,21.52 L285.92,21.36 L286.39,21.21 L286.86,21.05 L287.33,20.90 L287.80,20.75 L288.27,20.60 L288.74,20.45 L289.21,20.31 L289.68,20.16 L290.16,20.02 L290.63,19.88 L291.10,19.74 L291.58,19.60 L292.06,19.46 L292.53,19.33 L293.01,19.20 L293.49,19.06 L293.97,18.93 L294.44,18.81 L294.92,18.68 L295.40,18.55 L295.88,18.43 L296.36,18.31 L296.84,18.18 L297.31,18.06 L297.79,17.94 L298.27,17.82 L298.74,17.70 L299.21,17.57 L299.68,17.45 L300.15,17.33 L300.62,17.21 L301.09,17.09 L301.55,16.97 L302.02,16.84 L302.48,16.72 L302.94,16.60 L303.40,16.48 L303.86,16.36 L304.31,16.24 L304.77,16.13 L305.23,16.01 L305.68,15.90 L306.14,15.79 L306.59,15.69 L307.05,15.59 L307.50,15.50 L307.50,15.50" fill="none" stroke="#E31B0D" stroke-width="1.4" stroke-linejoin="round" stroke-linecap="round"/></g>
<rect x="65.80" y="7.45" width="250.25" height="249.45" fill="none" stroke="#000" stroke-width="2.1"/>
<path d="M74.30,257.95V259.90M64.75,248.40H62.80M132.60,257.95V259.90M64.75,190.18H62.80M190.90,257.95V259.90M64.75,131.95H62.80M249.20,257.95V259.90M64.75,73.72H62.80M307.50,257.95V259.90M64.75,15.50H62.80" stroke="#222" stroke-width="1.1"/>
<text class="tl" x="74.30" y="270.2" font-size="11.4" text-anchor="middle" textLength="27.4" lengthAdjust="spacingAndGlyphs">0.00</text>
<text class="tl" x="60.6" y="252.20" font-size="11.4" text-anchor="end" textLength="26.2" lengthAdjust="spacingAndGlyphs">0.00</text>
<text class="tl" x="132.60" y="270.2" font-size="11.4" text-anchor="middle" textLength="27.4" lengthAdjust="spacingAndGlyphs">0.25</text>
<text class="tl" x="60.6" y="193.98" font-size="11.4" text-anchor="end" textLength="26.2" lengthAdjust="spacingAndGlyphs">0.25</text>
<text class="tl" x="190.90" y="270.2" font-size="11.4" text-anchor="middle" textLength="27.4" lengthAdjust="spacingAndGlyphs">0.50</text>
<text class="tl" x="60.6" y="135.75" font-size="11.4" text-anchor="end" textLength="26.2" lengthAdjust="spacingAndGlyphs">0.50</text>
<text class="tl" x="249.20" y="270.2" font-size="11.4" text-anchor="middle" textLength="27.4" lengthAdjust="spacingAndGlyphs">0.75</text>
<text class="tl" x="60.6" y="77.52" font-size="11.4" text-anchor="end" textLength="26.2" lengthAdjust="spacingAndGlyphs">0.75</text>
<text class="tl" x="307.50" y="270.2" font-size="11.4" text-anchor="middle" textLength="27.4" lengthAdjust="spacingAndGlyphs">1.00</text>
<text class="tl" x="60.6" y="19.30" font-size="11.4" text-anchor="end" textLength="26.2" lengthAdjust="spacingAndGlyphs">1.00</text>
<text class="ti" x="190.5" y="294.6" font-size="15.4" text-anchor="middle" textLength="281" lengthAdjust="spacingAndGlyphs">False positive rate (1 &#8722; specificity)</text>
<text class="ti" transform="translate(18.1,132.3) rotate(-90)" x="0" y="0" font-size="14.8" text-anchor="middle" textLength="244" lengthAdjust="spacingAndGlyphs">True positive rate (sensitivity)</text>
<text class="au" x="184.3" y="193.6" font-size="8.9" textLength="111" lengthAdjust="spacingAndGlyphs">AUC = 0.679 (0.668-0.689)</text>
</g>
<text class="lb" x="750.50" y="68.00" font-size="20.9">BMI</text>
<g transform="translate(990.55,0.00)">
<clipPath id="cp3"><rect x="65.80" y="7.45" width="250.25" height="249.45"/></clipPath>
<g clip-path="url(#cp3)"><line x1="50.98" y1="271.69" x2="330.82" y2="-7.79" stroke="#9A9A9A" stroke-width="1.25"/>
<path d="M74.30,248.40 L74.31,247.17 L74.34,246.34 L74.41,245.65 L74.47,245.01 L74.53,244.42 L74.59,243.86 L74.65,243.33 L74.72,242.82 L74.78,242.32 L74.84,241.84 L74.90,241.38 L74.96,240.92 L75.03,240.48 L75.09,240.05 L75.15,239.63 L75.22,239.21 L75.28,238.81 L75.34,238.41 L75.41,238.02 L75.48,237.63 L75.54,237.25 L75.61,236.88 L75.68,236.51 L75.74,236.15 L75.81,235.79 L75.88,235.44 L75.95,235.09 L76.02,234.75 L76.08,234.41 L76.15,234.07 L76.22,233.74 L76.29,233.41 L76.36,233.09 L76.43,232.77 L76.50,232.45 L76.57,232.13 L76.65,231.82 L76.72,231.51 L76.79,231.21 L76.86,230.90 L76.94,230.61 L77.01,230.31 L77.09,230.02 L77.17,229.73 L77.24,229.44 L77.32,229.16 L77.40,228.87 L77.48,228.60 L77.56,228.32 L77.64,228.05 L77.72,227.78 L77.80,227.51 L77.89,227.24 L77.97,226.98 L78.05,226.72 L78.14,226.46 L78.22,226.20 L78.31,225.94 L78.39,225.69 L78.48,225.44 L78.56,225.19 L78.65,224.94 L78.74,224.69 L78.82,224.45 L78.91,224.20 L79.00,223.96 L79.08,223.72 L79.17,223.48 L79.25,223.24 L79.34,223.00 L79.43,222.76 L79.51,222.53 L79.60,222.29 L79.68,222.06 L79.77,221.82 L79.85,221.59 L79.94,221.36 L80.02,221.13 L80.11,220.90 L80.19,220.67 L80.27,220.44 L80.36,220.21 L80.44,219.99 L80.52,219.76 L80.60,219.53 L80.68,219.31 L80.77,219.08 L80.85,218.86 L80.93,218.64 L81.01,218.41 L81.46,217.12 L81.91,215.84 L82.34,214.58 L82.77,213.33 L83.18,212.09 L83.59,210.87 L84.00,209.67 L84.40,208.49 L84.81,207.32 L85.22,206.17 L85.63,205.04 L86.04,203.94 L86.46,202.85 L86.88,201.78 L87.32,200.73 L87.75,199.70 L88.20,198.69 L88.65,197.70 L89.12,196.73 L89.59,195.78 L90.06,194.85 L90.54,193.93 L91.03,193.02 L91.51,192.12 L91.99,191.24 L92.48,190.36 L92.97,189.50 L93.47,188.66 L93.98,187.83 L94.50,187.03 L95.04,186.24 L95.58,185.47 L96.12,184.71 L96.67,183.97 L97.22,183.22 L97.76,182.48 L98.29,181.73 L98.81,180.98 L99.31,180.22 L99.80,179.45 L100.27,178.67 L100.73,177.89 L101.18,177.10 L101.62,176.31 L102.05,175.51 L102.48,174.72 L102.90,173.93 L103.34,173.15 L103.78,172.39 L104.23,171.64 L104.70,170.91 L105.18,170.20 L105.67,169.51 L106.17,168.83 L106.67,168.16 L107.18,167.49 L107.68,166.83 L108.18,166.16 L108.67,165.49 L109.15,164.82 L109.61,164.13 L110.05,163.42 L110.47,162.70 L110.86,161.96 L111.24,161.20 L111.59,160.43 L111.95,159.66 L112.31,158.89 L112.68,158.15 L113.07,157.43 L113.49,156.74 L113.92,156.06 L114.37,155.41 L114.84,154.77 L115.32,154.16 L115.81,153.55 L116.30,152.96 L116.80,152.37 L117.30,151.79 L117.79,151.20 L118.28,150.61 L118.77,150.03 L119.26,149.45 L119.75,148.87 L120.24,148.30 L120.74,147.73 L121.23,147.17 L121.73,146.61 L122.23,146.06 L122.73,145.51 L123.22,144.95 L123.71,144.39 L124.19,143.84 L124.67,143.28 L125.16,142.73 L125.64,142.18 L126.12,141.63 L126.60,141.08 L127.09,140.54 L127.57,140.00 L128.06,139.47 L128.54,138.93 L129.03,138.40 L129.51,137.87 L129.99,137.34 L130.46,136.81 L130.93,136.27 L131.40,135.73 L131.85,135.19 L132.31,134.64 L132.75,134.09 L133.20,133.54 L133.64,132.99 L134.08,132.44 L134.52,131.89 L134.96,131.35 L135.40,130.80 L135.84,130.27 L136.28,129.73 L136.73,129.20 L137.17,128.67 L137.61,128.14 L138.05,127.61 L138.49,127.07 L138.92,126.54 L139.35,126.00 L139.77,125.46 L140.19,124.92 L140.61,124.38 L141.02,123.83 L141.43,123.29 L141.85,122.76 L142.27,122.23 L142.69,121.70 L143.11,121.17 L143.54,120.65 L143.96,120.13 L144.39,119.62 L144.81,119.10 L145.24,118.59 L145.67,118.08 L146.10,117.58 L146.53,117.08 L146.96,116.58 L147.40,116.08 L147.83,115.59 L148.27,115.10 L148.71,114.62 L149.15,114.14 L149.59,113.66 L150.03,113.18 L150.47,112.70 L150.91,112.23 L151.35,111.75 L151.78,111.27 L152.22,110.79 L152.65,110.31 L153.07,109.83 L153.50,109.35 L153.93,108.87 L154.35,108.39 L154.78,107.92 L155.20,107.44 L155.63,106.97 L156.05,106.50 L156.48,106.03 L156.91,105.57 L157.34,105.11 L157.77,104.65 L158.20,104.19 L158.63,103.73 L159.06,103.27 L159.48,102.80 L159.90,102.33 L160.31,101.86 L160.72,101.39 L161.12,100.91 L161.52,100.44 L161.93,99.97 L162.34,99.50 L162.75,99.04 L163.17,98.59 L163.60,98.14 L164.03,97.71 L164.47,97.28 L164.92,96.85 L165.36,96.44 L165.81,96.02 L166.26,95.60 L166.71,95.19 L167.16,94.78 L167.62,94.38 L168.07,93.97 L168.52,93.56 L168.97,93.16 L169.42,92.76 L169.87,92.35 L170.32,91.95 L170.77,91.55 L171.22,91.14 L171.66,90.74 L172.11,90.34 L172.55,89.94 L172.99,89.54 L173.44,89.14 L173.88,88.74 L174.33,88.34 L174.77,87.95 L175.22,87.56 L175.67,87.17 L176.12,86.79 L176.58,86.40 L177.03,86.02 L177.49,85.65 L177.94,85.27 L178.40,84.90 L178.86,84.53 L179.32,84.16 L179.79,83.80 L180.25,83.44 L180.71,83.07 L181.18,82.71 L181.64,82.36 L182.11,82.00 L182.58,81.65 L183.04,81.30 L183.52,80.95 L183.99,80.61 L184.47,80.27 L184.94,79.93 L185.42,79.59 L185.90,79.26 L186.38,78.93 L186.85,78.59 L187.33,78.26 L187.80,77.92 L188.28,77.59 L188.75,77.26 L189.22,76.92 L189.70,76.59 L190.17,76.26 L190.64,75.93 L191.12,75.61 L191.59,75.28 L192.07,74.96 L192.54,74.63 L193.02,74.31 L193.50,73.99 L193.97,73.67 L194.45,73.36 L194.93,73.04 L195.41,72.73 L195.89,72.42 L196.38,72.12 L196.87,71.82 L197.35,71.51 L197.84,71.21 L198.32,70.91 L198.81,70.61 L199.29,70.31 L199.77,70.01 L200.25,69.70 L200.73,69.40 L201.20,69.09 L201.67,68.78 L202.15,68.48 L202.62,68.17 L203.09,67.87 L203.56,67.56 L204.03,67.26 L204.50,66.95 L204.97,66.65 L205.44,66.34 L205.90,66.04 L206.37,65.73 L206.83,65.42 L207.29,65.11 L207.74,64.80 L208.20,64.49 L208.65,64.18 L209.11,63.87 L209.56,63.56 L210.01,63.25 L210.46,62.93 L210.91,62.62 L211.36,62.31 L211.82,62.00 L212.27,61.70 L212.72,61.39 L213.17,61.08 L213.61,60.78 L214.06,60.47 L214.51,60.16 L214.96,59.86 L215.41,59.55 L215.85,59.25 L216.30,58.94 L216.74,58.64 L217.19,58.33 L217.63,58.03 L218.07,57.72 L218.51,57.42 L218.96,57.11 L219.40,56.81 L219.84,56.51 L220.28,56.21 L220.73,55.91 L221.17,55.61 L221.61,55.31 L222.06,55.02 L222.50,54.72 L222.95,54.43 L223.39,54.14 L223.84,53.85 L224.28,53.55 L224.73,53.26 L225.17,52.98 L225.61,52.69 L226.06,52.40 L226.50,52.11 L226.94,51.82 L227.39,51.53 L227.83,51.25 L228.26,50.96 L228.70,50.66 L229.13,50.37 L229.57,50.08 L229.99,49.78 L230.42,49.48 L230.84,49.18 L231.26,48.87 L231.67,48.57 L232.08,48.25 L232.48,47.94 L232.88,47.62 L233.27,47.29 L233.66,46.96 L234.04,46.62 L234.41,46.28 L234.78,45.93 L235.15,45.59 L235.51,45.24 L235.88,44.89 L236.25,44.55 L236.63,44.22 L237.02,43.90 L237.41,43.58 L237.82,43.28 L238.23,42.99 L238.66,42.70 L239.09,42.42 L239.52,42.15 L239.96,41.89 L240.40,41.63 L240.85,41.37 L241.30,41.11 L241.74,40.86 L242.19,40.61 L242.64,40.36 L243.10,40.11 L243.55,39.86 L244.00,39.62 L244.45,39.37 L244.90,39.13 L245.36,38.89 L245.81,38.65 L246.27,38.41 L246.73,38.18 L247.20,37.95 L247.66,37.72 L248.13,37.50 L248.60,37.28 L249.07,37.06 L249.54,36.84 L250.01,36.63 L250.49,36.42 L250.97,36.21 L251.44,36.00 L251.92,35.79 L252.40,35.59 L252.88,35.38 L253.36,35.18 L253.84,34.98 L254.32,34.78 L254.79,34.57 L255.27,34.37 L255.74,34.16 L256.21,33.96 L256.68,33.75 L257.15,33.54 L257.61,33.33 L258.08,33.11 L258.54,32.90 L258.99,32.68 L259.45,32.47 L259.90,32.25 L260.36,32.03 L260.81,31.81 L261.26,31.59 L261.70,31.37 L262.15,31.15 L262.60,30.93 L263.04,30.71 L263.49,30.49 L263.93,30.27 L264.38,30.05 L264.82,29.83 L265.27,29.61 L265.71,29.40 L266.16,29.18 L266.60,28.97 L267.05,28.76 L267.50,28.55 L267.95,28.34 L268.40,28.13 L268.85,27.92 L269.30,27.72 L269.75,27.52 L270.20,27.32 L270.66,27.12 L271.11,26.92 L271.57,26.73 L272.02,26.53 L272.48,26.34 L272.93,26.15 L273.39,25.95 L273.85,25.76 L274.30,25.57 L274.76,25.38 L275.22,25.20 L275.67,25.01 L276.13,24.82 L276.59,24.64 L277.05,24.46 L277.51,24.28 L277.97,24.10 L278.43,23.92 L278.89,23.74 L279.35,23.57 L279.82,23.40 L280.28,23.23 L280.75,23.06 L281.22,22.90 L281.69,22.73 L282.16,22.58 L282.63,22.42 L283.11,22.26 L283.58,22.11 L284.06,21.96 L284.54,21.81 L285.02,21.66 L285.50,21.52 L285.98,21.37 L286.46,21.23 L286.94,21.09 L287.42,20.95 L287.90,20.81 L288.38,20.67 L288.86,20.53 L289.34,20.39 L289.82,20.25 L290.29,20.11 L290.77,19.97 L291.24,19.83 L291.71,19.69 L292.18,19.55 L292.65,19.40 L293.11,19.26 L293.58,19.12 L294.04,18.98 L294.51,18.83 L294.97,18.69 L295.43,18.55 L295.90,18.41 L296.36,18.27 L296.82,18.13 L297.28,18.00 L297.74,17.86 L298.21,17.73 L298.67,17.60 L299.13,17.47 L299.59,17.34 L300.06,17.21 L300.52,17.08 L300.98,16.96 L301.44,16.84 L301.90,16.71 L302.37,16.59 L302.83,16.47 L303.29,16.36 L303.75,16.24 L304.21,16.13 L304.66,16.01 L305.12,15.90 L305.58,15.80 L306.05,15.70 L306.54,15.63 L307.02,15.56 L307.50,15.50 L307.50,15.50" fill="none" stroke="#E31B0D" stroke-width="1.4" stroke-linejoin="round" stroke-linecap="round"/></g>
<rect x="65.80" y="7.45" width="250.25" height="249.45" fill="none" stroke="#000" stroke-width="2.1"/>
<path d="M74.30,257.95V259.90M64.75,248.40H62.80M132.60,257.95V259.90M64.75,190.18H62.80M190.90,257.95V259.90M64.75,131.95H62.80M249.20,257.95V259.90M64.75,73.72H62.80M307.50,257.95V259.90M64.75,15.50H62.80" stroke="#222" stroke-width="1.1"/>
<text class="tl" x="74.30" y="270.2" font-size="11.4" text-anchor="middle" textLength="27.4" lengthAdjust="spacingAndGlyphs">0.00</text>
<text class="tl" x="60.6" y="252.20" font-size="11.4" text-anchor="end" textLength="26.2" lengthAdjust="spacingAndGlyphs">0.00</text>
<text class="tl" x="132.60" y="270.2" font-size="11.4" text-anchor="middle" textLength="27.4" lengthAdjust="spacingAndGlyphs">0.25</text>
<text class="tl" x="60.6" y="193.98" font-size="11.4" text-anchor="end" textLength="26.2" lengthAdjust="spacingAndGlyphs">0.25</text>
<text class="tl" x="190.90" y="270.2" font-size="11.4" text-anchor="middle" textLength="27.4" lengthAdjust="spacingAndGlyphs">0.50</text>
<text class="tl" x="60.6" y="135.75" font-size="11.4" text-anchor="end" textLength="26.2" lengthAdjust="spacingAndGlyphs">0.50</text>
<text class="tl" x="249.20" y="270.2" font-size="11.4" text-anchor="middle" textLength="27.4" lengthAdjust="spacingAndGlyphs">0.75</text>
<text class="tl" x="60.6" y="77.52" font-size="11.4" text-anchor="end" textLength="26.2" lengthAdjust="spacingAndGlyphs">0.75</text>
<text class="tl" x="307.50" y="270.2" font-size="11.4" text-anchor="middle" textLength="27.4" lengthAdjust="spacingAndGlyphs">1.00</text>
<text class="tl" x="60.6" y="19.30" font-size="11.4" text-anchor="end" textLength="26.2" lengthAdjust="spacingAndGlyphs">1.00</text>
<text class="ti" x="190.5" y="294.6" font-size="15.4" text-anchor="middle" textLength="281" lengthAdjust="spacingAndGlyphs">False positive rate (1 &#8722; specificity)</text>
<text class="ti" transform="translate(18.1,132.3) rotate(-90)" x="0" y="0" font-size="14.8" text-anchor="middle" textLength="244" lengthAdjust="spacingAndGlyphs">True positive rate (sensitivity)</text>
<text class="au" x="184.3" y="193.6" font-size="8.9" textLength="111" lengthAdjust="spacingAndGlyphs">AUC = 0.679 (0.669-0.690)</text>
</g>
<text class="lb" x="1080.70" y="67.80" font-size="20.9">WHtR</text>
<g transform="translate(0.00,300.85)">
<clipPath id="cp4"><rect x="65.80" y="7.45" width="250.25" height="249.45"/></clipPath>
<g clip-path="url(#cp4)"><line x1="50.98" y1="271.69" x2="330.82" y2="-7.79" stroke="#9A9A9A" stroke-width="1.25"/>
<path d="M74.30,248.40 L74.37,247.36 L74.43,246.63 L74.50,246.00 L74.58,245.42 L74.65,244.88 L74.72,244.36 L74.79,243.87 L74.87,243.39 L74.94,242.93 L75.01,242.48 L75.07,242.05 L75.14,241.62 L75.21,241.20 L75.28,240.80 L75.35,240.39 L75.41,240.00 L75.48,239.61 L75.54,239.23 L75.61,238.85 L75.67,238.48 L75.74,238.11 L75.80,237.75 L75.87,237.40 L75.94,237.05 L76.00,236.70 L76.07,236.35 L76.13,236.02 L76.20,235.68 L76.27,235.35 L76.34,235.02 L76.40,234.70 L76.47,234.38 L76.54,234.06 L76.61,233.75 L76.68,233.44 L76.75,233.13 L76.82,232.83 L76.90,232.53 L76.97,232.23 L77.04,231.93 L77.11,231.64 L77.18,231.35 L77.26,231.06 L77.33,230.77 L77.40,230.49 L77.48,230.21 L77.55,229.93 L77.62,229.65 L77.70,229.37 L77.77,229.10 L77.85,228.83 L77.92,228.56 L78.00,228.29 L78.07,228.02 L78.15,227.76 L78.22,227.49 L78.30,227.23 L78.37,226.97 L78.45,226.71 L78.52,226.46 L78.60,226.20 L78.67,225.95 L78.75,225.69 L78.82,225.44 L78.90,225.19 L78.98,224.94 L79.05,224.70 L79.13,224.45 L79.21,224.21 L79.29,223.97 L79.37,223.72 L79.44,223.49 L79.52,223.25 L79.60,223.01 L79.68,222.78 L79.76,222.54 L79.84,222.31 L79.92,222.08 L80.00,221.85 L80.08,221.62 L80.16,221.39 L80.24,221.17 L80.33,220.94 L80.41,220.72 L80.49,220.49 L80.57,220.27 L80.66,220.05 L80.74,219.83 L80.82,219.61 L80.90,219.40 L81.39,218.15 L81.87,216.92 L82.35,215.72 L82.83,214.53 L83.30,213.36 L83.76,212.20 L84.22,211.06 L84.67,209.93 L85.12,208.81 L85.57,207.70 L86.01,206.61 L86.44,205.53 L86.88,204.46 L87.31,203.40 L87.75,202.35 L88.17,201.32 L88.60,200.29 L89.02,199.27 L89.45,198.26 L89.88,197.27 L90.33,196.31 L90.79,195.37 L91.26,194.45 L91.75,193.56 L92.24,192.68 L92.75,191.83 L93.26,190.98 L93.77,190.15 L94.29,189.33 L94.82,188.53 L95.35,187.73 L95.88,186.94 L96.40,186.16 L96.91,185.37 L97.41,184.58 L97.91,183.79 L98.39,182.99 L98.87,182.19 L99.34,181.40 L99.81,180.61 L100.28,179.83 L100.75,179.04 L101.21,178.26 L101.67,177.48 L102.12,176.70 L102.57,175.92 L103.01,175.14 L103.45,174.36 L103.88,173.58 L104.30,172.80 L104.72,172.02 L105.13,171.23 L105.54,170.44 L105.94,169.66 L106.34,168.88 L106.75,168.11 L107.17,167.36 L107.59,166.61 L108.02,165.88 L108.46,165.15 L108.90,164.44 L109.34,163.73 L109.79,163.02 L110.23,162.33 L110.68,161.64 L111.13,160.95 L111.58,160.27 L112.04,159.60 L112.50,158.93 L112.95,158.26 L113.41,157.61 L113.88,156.95 L114.34,156.31 L114.81,155.67 L115.28,155.04 L115.76,154.41 L116.24,153.80 L116.73,153.20 L117.22,152.60 L117.73,152.02 L118.23,151.43 L118.73,150.86 L119.23,150.28 L119.73,149.70 L120.21,149.11 L120.69,148.52 L121.16,147.93 L121.62,147.33 L122.08,146.72 L122.53,146.12 L122.98,145.51 L123.42,144.90 L123.86,144.29 L124.31,143.69 L124.75,143.09 L125.19,142.49 L125.63,141.89 L126.07,141.29 L126.51,140.70 L126.94,140.10 L127.37,139.50 L127.80,138.91 L128.22,138.31 L128.65,137.72 L129.08,137.13 L129.51,136.55 L129.95,135.97 L130.39,135.39 L130.83,134.83 L131.27,134.26 L131.71,133.70 L132.15,133.14 L132.59,132.58 L133.03,132.03 L133.48,131.47 L133.92,130.92 L134.37,130.38 L134.81,129.84 L135.26,129.30 L135.71,128.77 L136.17,128.24 L136.62,127.71 L137.08,127.19 L137.53,126.67 L137.99,126.15 L138.45,125.64 L138.90,125.12 L139.35,124.61 L139.81,124.10 L140.26,123.58 L140.71,123.07 L141.15,122.56 L141.60,122.05 L142.05,121.54 L142.49,121.03 L142.94,120.52 L143.39,120.02 L143.84,119.52 L144.29,119.03 L144.75,118.54 L145.21,118.05 L145.67,117.57 L146.13,117.09 L146.60,116.62 L147.06,116.15 L147.53,115.69 L148.00,115.22 L148.47,114.76 L148.93,114.29 L149.39,113.83 L149.85,113.36 L150.31,112.89 L150.77,112.43 L151.23,111.96 L151.68,111.50 L152.14,111.04 L152.60,110.59 L153.07,110.14 L153.53,109.69 L154.00,109.25 L154.48,108.81 L154.95,108.37 L155.42,107.94 L155.89,107.50 L156.35,107.07 L156.82,106.62 L157.27,106.18 L157.72,105.73 L158.17,105.28 L158.60,104.82 L159.03,104.36 L159.46,103.89 L159.88,103.42 L160.30,102.94 L160.71,102.46 L161.11,101.98 L161.52,101.50 L161.91,101.01 L162.31,100.52 L162.70,100.03 L163.10,99.55 L163.50,99.07 L163.91,98.60 L164.33,98.15 L164.75,97.70 L165.19,97.27 L165.64,96.84 L166.09,96.42 L166.55,96.01 L167.02,95.61 L167.49,95.22 L167.97,94.83 L168.45,94.44 L168.93,94.06 L169.41,93.68 L169.90,93.31 L170.38,92.93 L170.86,92.55 L171.35,92.18 L171.83,91.81 L172.31,91.44 L172.80,91.08 L173.29,90.72 L173.79,90.36 L174.28,90.00 L174.77,89.65 L175.27,89.30 L175.76,88.94 L176.25,88.59 L176.73,88.23 L177.21,87.87 L177.68,87.50 L178.15,87.13 L178.61,86.75 L179.07,86.37 L179.52,85.98 L179.96,85.59 L180.41,85.20 L180.84,84.81 L181.28,84.41 L181.72,84.02 L182.15,83.63 L182.59,83.23 L183.02,82.84 L183.46,82.46 L183.90,82.07 L184.34,81.69 L184.78,81.30 L185.22,80.92 L185.66,80.54 L186.10,80.16 L186.54,79.79 L186.98,79.41 L187.42,79.04 L187.87,78.67 L188.32,78.31 L188.77,77.94 L189.22,77.59 L189.68,77.24 L190.14,76.89 L190.61,76.55 L191.09,76.22 L191.56,75.89 L192.05,75.57 L192.53,75.25 L193.02,74.94 L193.50,74.62 L193.99,74.30 L194.47,73.98 L194.94,73.65 L195.41,73.33 L195.87,72.99 L196.33,72.66 L196.78,72.32 L197.23,71.97 L197.68,71.63 L198.12,71.28 L198.57,70.93 L199.01,70.58 L199.44,70.23 L199.88,69.88 L200.32,69.53 L200.75,69.18 L201.19,68.83 L201.63,68.49 L202.06,68.14 L202.50,67.80 L202.94,67.45 L203.37,67.11 L203.80,66.76 L204.24,66.42 L204.67,66.07 L205.10,65.72 L205.52,65.38 L205.95,65.03 L206.38,64.69 L206.81,64.35 L207.25,64.01 L207.68,63.68 L208.12,63.35 L208.56,63.02 L209.00,62.69 L209.45,62.37 L209.89,62.05 L210.34,61.73 L210.79,61.42 L211.24,61.11 L211.69,60.80 L212.14,60.49 L212.59,60.18 L213.05,59.88 L213.50,59.58 L213.96,59.28 L214.42,58.98 L214.88,58.68 L215.34,58.39 L215.80,58.09 L216.26,57.80 L216.73,57.52 L217.19,57.23 L217.66,56.95 L218.13,56.67 L218.60,56.40 L219.08,56.12 L219.55,55.85 L220.02,55.58 L220.50,55.31 L220.97,55.04 L221.45,54.77 L221.92,54.50 L222.39,54.23 L222.86,53.96 L223.33,53.69 L223.80,53.42 L224.26,53.15 L224.73,52.88 L225.19,52.60 L225.65,52.33 L226.11,52.05 L226.57,51.78 L227.02,51.50 L227.48,51.22 L227.93,50.94 L228.38,50.67 L228.83,50.39 L229.28,50.11 L229.73,49.83 L230.18,49.55 L230.62,49.27 L231.07,48.99 L231.51,48.71 L231.95,48.42 L232.38,48.14 L232.82,47.85 L233.25,47.56 L233.68,47.27 L234.11,46.98 L234.53,46.69 L234.96,46.39 L235.38,46.10 L235.80,45.81 L236.22,45.51 L236.64,45.22 L237.06,44.93 L237.49,44.64 L237.91,44.35 L238.34,44.07 L238.77,43.79 L239.20,43.51 L239.63,43.23 L240.06,42.96 L240.50,42.69 L240.93,42.42 L241.37,42.15 L241.81,41.88 L242.24,41.62 L242.68,41.35 L243.12,41.09 L243.56,40.83 L244.00,40.57 L244.44,40.31 L244.88,40.05 L245.32,39.80 L245.76,39.54 L246.21,39.29 L246.65,39.04 L247.10,38.79 L247.54,38.54 L247.99,38.30 L248.44,38.05 L248.89,37.81 L249.34,37.58 L249.79,37.34 L250.25,37.10 L250.70,36.87 L251.15,36.63 L251.61,36.40 L252.06,36.17 L252.52,35.94 L252.97,35.71 L253.42,35.48 L253.88,35.26 L254.33,35.03 L254.79,34.80 L255.24,34.57 L255.69,34.35 L256.14,34.12 L256.60,33.90 L257.05,33.68 L257.50,33.45 L257.95,33.23 L258.41,33.01 L258.86,32.79 L259.31,32.57 L259.77,32.35 L260.22,32.14 L260.68,31.92 L261.13,31.71 L261.59,31.50 L262.04,31.28 L262.50,31.08 L262.96,30.87 L263.42,30.66 L263.87,30.45 L264.33,30.25 L264.79,30.04 L265.24,29.83 L265.69,29.63 L266.15,29.42 L266.59,29.21 L267.04,29.00 L267.49,28.79 L267.93,28.57 L268.37,28.36 L268.81,28.14 L269.25,27.93 L269.68,27.71 L270.12,27.49 L270.55,27.27 L270.98,27.05 L271.41,26.83 L271.84,26.61 L272.27,26.40 L272.70,26.18 L273.13,25.97 L273.57,25.75 L274.00,25.54 L274.44,25.34 L274.88,25.13 L275.32,24.94 L275.77,24.74 L276.22,24.55 L276.67,24.36 L277.12,24.18 L277.58,24.00 L278.04,23.82 L278.50,23.65 L278.97,23.48 L279.43,23.31 L279.90,23.14 L280.37,22.98 L280.84,22.82 L281.31,22.66 L281.77,22.50 L282.24,22.34 L282.71,22.18 L283.18,22.02 L283.65,21.86 L284.12,21.71 L284.58,21.55 L285.05,21.40 L285.52,21.24 L285.98,21.08 L286.44,20.93 L286.91,20.77 L287.37,20.62 L287.83,20.46 L288.29,20.31 L288.75,20.16 L289.21,20.00 L289.67,19.85 L290.13,19.70 L290.59,19.55 L291.05,19.40 L291.50,19.24 L291.96,19.10 L292.42,18.95 L292.87,18.80 L293.33,18.65 L293.79,18.51 L294.25,18.37 L294.71,18.23 L295.17,18.09 L295.63,17.96 L296.09,17.82 L296.56,17.70 L297.02,17.57 L297.49,17.45 L297.96,17.33 L298.43,17.21 L298.91,17.10 L299.38,16.99 L299.86,16.88 L300.33,16.77 L300.81,16.66 L301.28,16.56 L301.76,16.46 L302.23,16.36 L302.70,16.26 L303.17,16.16 L303.65,16.06 L304.12,15.97 L304.59,15.87 L305.05,15.78 L305.52,15.69 L306.01,15.63 L306.51,15.58 L307.01,15.54 L307.50,15.50 L307.50,15.50" fill="none" stroke="#E31B0D" stroke-width="1.4" stroke-linejoin="round" stroke-linecap="round"/></g>
<rect x="65.80" y="7.45" width="250.25" height="249.45" fill="none" stroke="#000" stroke-width="2.1"/>
<path d="M74.30,257.95V259.90M64.75,248.40H62.80M132.60,257.95V259.90M64.75,190.18H62.80M190.90,257.95V259.90M64.75,131.95H62.80M249.20,257.95V259.90M64.75,73.72H62.80M307.50,257.95V259.90M64.75,15.50H62.80" stroke="#222" stroke-width="1.1"/>
<text class="tl" x="74.30" y="270.2" font-size="11.4" text-anchor="middle" textLength="27.4" lengthAdjust="spacingAndGlyphs">0.00</text>
<text class="tl" x="60.6" y="252.20" font-size="11.4" text-anchor="end" textLength="26.2" lengthAdjust="spacingAndGlyphs">0.00</text>
<text class="tl" x="132.60" y="270.2" font-size="11.4" text-anchor="middle" textLength="27.4" lengthAdjust="spacingAndGlyphs">0.25</text>
<text class="tl" x="60.6" y="193.98" font-size="11.4" text-anchor="end" textLength="26.2" lengthAdjust="spacingAndGlyphs">0.25</text>
<text class="tl" x="190.90" y="270.2" font-size="11.4" text-anchor="middle" textLength="27.4" lengthAdjust="spacingAndGlyphs">0.50</text>
<text class="tl" x="60.6" y="135.75" font-size="11.4" text-anchor="end" textLength="26.2" lengthAdjust="spacingAndGlyphs">0.50</text>
<text class="tl" x="249.20" y="270.2" font-size="11.4" text-anchor="middle" textLength="27.4" lengthAdjust="spacingAndGlyphs">0.75</text>
<text class="tl" x="60.6" y="77.52" font-size="11.4" text-anchor="end" textLength="26.2" lengthAdjust="spacingAndGlyphs">0.75</text>
<text class="tl" x="307.50" y="270.2" font-size="11.4" text-anchor="middle" textLength="27.4" lengthAdjust="spacingAndGlyphs">1.00</text>
<text class="tl" x="60.6" y="19.30" font-size="11.4" text-anchor="end" textLength="26.2" lengthAdjust="spacingAndGlyphs">1.00</text>
<text class="ti" x="190.5" y="294.6" font-size="15.4" text-anchor="middle" textLength="281" lengthAdjust="spacingAndGlyphs">False positive rate (1 &#8722; specificity)</text>
<text class="ti" transform="translate(18.1,132.3) rotate(-90)" x="0" y="0" font-size="14.8" text-anchor="middle" textLength="244" lengthAdjust="spacingAndGlyphs">True positive rate (sensitivity)</text>
<text class="au" x="184.3" y="193.6" font-size="8.9" textLength="111" lengthAdjust="spacingAndGlyphs">AUC = 0.677 (0.667-0.688)</text>
</g>
<text class="lb" x="97.70" y="364.80" font-size="20.9">TyG</text>
<g transform="translate(330.25,300.85)">
<clipPath id="cp5"><rect x="65.80" y="7.45" width="250.25" height="249.45"/></clipPath>
<g clip-path="url(#cp5)"><line x1="50.98" y1="271.69" x2="330.82" y2="-7.79" stroke="#9A9A9A" stroke-width="1.25"/>
<path d="M74.30,248.40 L74.35,247.22 L74.40,246.41 L74.47,245.73 L74.53,245.10 L74.60,244.52 L74.67,243.97 L74.73,243.44 L74.80,242.94 L74.87,242.45 L74.93,241.97 L74.99,241.51 L75.06,241.06 L75.12,240.62 L75.19,240.19 L75.25,239.77 L75.31,239.36 L75.38,238.95 L75.44,238.56 L75.50,238.16 L75.56,237.78 L75.63,237.40 L75.69,237.02 L75.75,236.65 L75.82,236.29 L75.88,235.93 L75.95,235.57 L76.01,235.22 L76.07,234.88 L76.14,234.53 L76.20,234.19 L76.27,233.86 L76.33,233.53 L76.40,233.20 L76.46,232.87 L76.53,232.55 L76.59,232.23 L76.66,231.91 L76.72,231.60 L76.79,231.29 L76.86,230.98 L76.92,230.67 L76.99,230.37 L77.06,230.07 L77.12,229.77 L77.19,229.48 L77.26,229.18 L77.33,228.89 L77.39,228.60 L77.46,228.32 L77.53,228.03 L77.60,227.75 L77.67,227.47 L77.74,227.19 L77.81,226.92 L77.88,226.64 L77.95,226.37 L78.02,226.10 L78.10,225.83 L78.17,225.57 L78.24,225.30 L78.31,225.04 L78.39,224.78 L78.46,224.52 L78.53,224.26 L78.61,224.01 L78.68,223.75 L78.76,223.50 L78.83,223.25 L78.90,223.00 L78.98,222.75 L79.05,222.50 L79.13,222.26 L79.20,222.01 L79.28,221.77 L79.35,221.52 L79.43,221.28 L79.50,221.04 L79.58,220.80 L79.66,220.57 L79.73,220.33 L79.81,220.09 L79.88,219.86 L79.96,219.63 L80.03,219.39 L80.11,219.16 L80.19,218.93 L80.26,218.70 L80.34,218.47 L80.41,218.25 L80.49,218.02 L80.93,216.72 L81.38,215.44 L81.82,214.19 L82.27,212.97 L82.73,211.78 L83.18,210.61 L83.64,209.46 L84.10,208.33 L84.56,207.22 L85.02,206.13 L85.48,205.06 L85.95,204.00 L86.41,202.96 L86.87,201.93 L87.34,200.92 L87.80,199.92 L88.27,198.93 L88.74,197.96 L89.21,197.00 L89.68,196.05 L90.16,195.12 L90.63,194.20 L91.11,193.29 L91.60,192.40 L92.09,191.52 L92.59,190.66 L93.10,189.82 L93.62,188.99 L94.15,188.19 L94.69,187.41 L95.25,186.65 L95.81,185.90 L96.38,185.16 L96.93,184.42 L97.47,183.67 L98.00,182.92 L98.51,182.15 L99.01,181.38 L99.49,180.61 L99.97,179.83 L100.44,179.05 L100.90,178.26 L101.35,177.48 L101.79,176.69 L102.22,175.89 L102.65,175.10 L103.07,174.31 L103.49,173.52 L103.92,172.74 L104.34,171.96 L104.77,171.20 L105.20,170.44 L105.64,169.70 L106.09,168.96 L106.54,168.24 L106.99,167.51 L107.44,166.80 L107.88,166.08 L108.32,165.37 L108.76,164.65 L109.20,163.94 L109.64,163.24 L110.08,162.54 L110.52,161.84 L110.96,161.15 L111.40,160.46 L111.84,159.78 L112.28,159.10 L112.73,158.42 L113.17,157.75 L113.61,157.08 L114.06,156.42 L114.51,155.77 L114.96,155.12 L115.42,154.48 L115.88,153.85 L116.35,153.23 L116.82,152.61 L117.29,152.01 L117.77,151.40 L118.25,150.81 L118.72,150.21 L119.20,149.62 L119.67,149.02 L120.14,148.43 L120.61,147.84 L121.08,147.25 L121.56,146.67 L122.03,146.09 L122.51,145.52 L122.99,144.95 L123.48,144.40 L123.96,143.84 L124.45,143.28 L124.93,142.73 L125.40,142.17 L125.88,141.61 L126.35,141.06 L126.82,140.50 L127.29,139.95 L127.76,139.40 L128.23,138.86 L128.71,138.32 L129.19,137.78 L129.66,137.25 L130.14,136.72 L130.61,136.19 L131.09,135.66 L131.56,135.13 L132.04,134.61 L132.52,134.09 L133.00,133.57 L133.48,133.06 L133.97,132.56 L134.46,132.07 L134.96,131.58 L135.46,131.10 L135.96,130.61 L136.46,130.13 L136.95,129.65 L137.44,129.17 L137.93,128.68 L138.40,128.18 L138.86,127.68 L139.31,127.16 L139.75,126.64 L140.18,126.10 L140.59,125.55 L141.00,125.00 L141.40,124.44 L141.79,123.88 L142.18,123.32 L142.58,122.76 L142.98,122.21 L143.38,121.67 L143.79,121.13 L144.20,120.60 L144.62,120.08 L145.04,119.55 L145.46,119.03 L145.87,118.52 L146.29,118.00 L146.71,117.48 L147.12,116.97 L147.53,116.45 L147.95,115.93 L148.36,115.42 L148.77,114.91 L149.18,114.40 L149.60,113.89 L150.01,113.39 L150.43,112.88 L150.85,112.39 L151.27,111.89 L151.69,111.40 L152.11,110.91 L152.53,110.42 L152.95,109.93 L153.38,109.45 L153.80,108.97 L154.23,108.50 L154.66,108.03 L155.10,107.56 L155.53,107.10 L155.97,106.64 L156.41,106.18 L156.84,105.72 L157.27,105.25 L157.70,104.79 L158.12,104.32 L158.54,103.86 L158.96,103.38 L159.37,102.91 L159.78,102.43 L160.18,101.95 L160.58,101.47 L160.98,100.99 L161.38,100.51 L161.78,100.04 L162.19,99.57 L162.61,99.12 L163.04,98.67 L163.47,98.23 L163.92,97.81 L164.37,97.39 L164.84,96.99 L165.31,96.60 L165.80,96.22 L166.29,95.84 L166.78,95.47 L167.28,95.12 L167.79,94.76 L168.30,94.42 L168.82,94.07 L169.34,93.74 L169.86,93.40 L170.38,93.07 L170.90,92.74 L171.42,92.40 L171.93,92.07 L172.44,91.73 L172.95,91.38 L173.44,91.03 L173.93,90.68 L174.41,90.32 L174.89,89.95 L175.35,89.57 L175.81,89.19 L176.27,88.80 L176.71,88.41 L177.16,88.02 L177.60,87.63 L178.04,87.23 L178.48,86.84 L178.92,86.45 L179.36,86.05 L179.79,85.66 L180.23,85.27 L180.67,84.88 L181.11,84.50 L181.56,84.11 L182.00,83.73 L182.44,83.36 L182.89,82.98 L183.34,82.61 L183.79,82.23 L184.24,81.86 L184.68,81.50 L185.13,81.13 L185.58,80.76 L186.03,80.40 L186.48,80.03 L186.93,79.67 L187.38,79.31 L187.83,78.94 L188.27,78.58 L188.71,78.21 L189.15,77.84 L189.58,77.47 L190.01,77.10 L190.44,76.72 L190.86,76.34 L191.28,75.96 L191.70,75.57 L192.12,75.19 L192.54,74.81 L192.96,74.44 L193.39,74.07 L193.82,73.70 L194.25,73.34 L194.69,72.99 L195.14,72.64 L195.59,72.30 L196.04,71.96 L196.49,71.62 L196.95,71.29 L197.41,70.96 L197.87,70.63 L198.33,70.31 L198.79,69.98 L199.25,69.66 L199.71,69.34 L200.17,69.02 L200.63,68.70 L201.09,68.38 L201.56,68.06 L202.02,67.74 L202.48,67.43 L202.94,67.11 L203.41,66.80 L203.88,66.49 L204.34,66.19 L204.81,65.88 L205.27,65.57 L205.74,65.27 L206.20,64.96 L206.66,64.65 L207.12,64.34 L207.58,64.03 L208.03,63.72 L208.49,63.41 L208.94,63.10 L209.39,62.78 L209.84,62.47 L210.29,62.16 L210.74,61.85 L211.19,61.54 L211.64,61.23 L212.10,60.93 L212.55,60.62 L213.01,60.33 L213.47,60.03 L213.93,59.74 L214.40,59.45 L214.86,59.16 L215.33,58.88 L215.80,58.60 L216.28,58.32 L216.75,58.05 L217.23,57.77 L217.71,57.51 L218.19,57.24 L218.67,56.98 L219.16,56.71 L219.64,56.45 L220.12,56.19 L220.60,55.92 L221.07,55.66 L221.54,55.39 L222.01,55.11 L222.47,54.84 L222.93,54.56 L223.39,54.27 L223.84,53.99 L224.28,53.69 L224.72,53.40 L225.16,53.10 L225.59,52.80 L226.03,52.50 L226.46,52.20 L226.89,51.90 L227.31,51.60 L227.74,51.30 L228.17,51.00 L228.60,50.70 L229.04,50.40 L229.47,50.11 L229.90,49.82 L230.33,49.52 L230.76,49.23 L231.20,48.94 L231.63,48.65 L232.06,48.36 L232.49,48.07 L232.91,47.77 L233.34,47.48 L233.76,47.19 L234.18,46.89 L234.60,46.59 L235.02,46.30 L235.44,46.00 L235.85,45.70 L236.27,45.40 L236.68,45.10 L237.09,44.80 L237.51,44.50 L237.91,44.20 L238.32,43.90 L238.72,43.59 L239.12,43.28 L239.51,42.96 L239.90,42.64 L240.28,42.32 L240.65,41.99 L241.02,41.65 L241.39,41.32 L241.76,40.98 L242.13,40.65 L242.50,40.32 L242.88,40.00 L243.27,39.69 L243.67,39.40 L244.09,39.11 L244.51,38.84 L244.94,38.58 L245.39,38.32 L245.84,38.08 L246.29,37.84 L246.76,37.61 L247.23,37.39 L247.70,37.17 L248.18,36.96 L248.66,36.75 L249.14,36.54 L249.63,36.34 L250.12,36.14 L250.61,35.95 L251.11,35.76 L251.60,35.57 L252.10,35.38 L252.60,35.19 L253.09,35.00 L253.59,34.82 L254.08,34.63 L254.57,34.44 L255.06,34.25 L255.55,34.05 L256.03,33.85 L256.50,33.65 L256.98,33.45 L257.45,33.24 L257.91,33.03 L258.37,32.82 L258.83,32.60 L259.29,32.39 L259.75,32.17 L260.20,31.95 L260.65,31.73 L261.10,31.51 L261.55,31.29 L262.00,31.07 L262.45,30.85 L262.89,30.63 L263.34,30.41 L263.79,30.20 L264.23,29.98 L264.68,29.76 L265.13,29.55 L265.58,29.33 L266.03,29.12 L266.48,28.91 L266.93,28.70 L267.38,28.49 L267.83,28.29 L268.28,28.08 L268.74,27.88 L269.19,27.68 L269.64,27.47 L270.09,27.27 L270.54,27.07 L271.00,26.87 L271.44,26.66 L271.89,26.46 L272.34,26.25 L272.78,26.05 L273.22,25.84 L273.66,25.63 L274.10,25.43 L274.54,25.22 L274.98,25.01 L275.42,24.81 L275.85,24.60 L276.29,24.40 L276.73,24.20 L277.18,24.00 L277.62,23.80 L278.07,23.61 L278.52,23.42 L278.97,23.23 L279.43,23.05 L279.88,22.88 L280.34,22.70 L280.81,22.53 L281.28,22.37 L281.75,22.20 L282.22,22.04 L282.70,21.89 L283.17,21.74 L283.66,21.59 L284.14,21.45 L284.62,21.30 L285.11,21.16 L285.59,21.02 L286.08,20.88 L286.56,20.75 L287.05,20.61 L287.53,20.47 L288.01,20.33 L288.49,20.19 L288.97,20.05 L289.45,19.91 L289.92,19.77 L290.40,19.63 L290.87,19.48 L291.33,19.34 L291.80,19.19 L292.27,19.05 L292.73,18.90 L293.20,18.76 L293.66,18.62 L294.13,18.47 L294.59,18.33 L295.06,18.20 L295.53,18.06 L295.99,17.93 L296.46,17.80 L296.94,17.67 L297.41,17.55 L297.88,17.42 L298.36,17.30 L298.84,17.19 L299.32,17.07 L299.80,16.96 L300.27,16.85 L300.75,16.74 L301.23,16.63 L301.71,16.53 L302.19,16.42 L302.66,16.32 L303.14,16.22 L303.61,16.11 L304.09,16.01 L304.56,15.91 L305.03,15.81 L305.50,15.72 L305.99,15.64 L306.50,15.59 L307.00,15.55 L307.50,15.50 L307.50,15.50" fill="none" stroke="#E31B0D" stroke-width="1.4" stroke-linejoin="round" stroke-linecap="round"/></g>
<rect x="65.80" y="7.45" width="250.25" height="249.45" fill="none" stroke="#000" stroke-width="2.1"/>
<path d="M74.30,257.95V259.90M64.75,248.40H62.80M132.60,257.95V259.90M64.75,190.18H62.80M190.90,257.95V259.90M64.75,131.95H62.80M249.20,257.95V259.90M64.75,73.72H62.80M307.50,257.95V259.90M64.75,15.50H62.80" stroke="#222" stroke-width="1.1"/>
<text class="tl" x="74.30" y="270.2" font-size="11.4" text-anchor="middle" textLength="27.4" lengthAdjust="spacingAndGlyphs">0.00</text>
<text class="tl" x="60.6" y="252.20" font-size="11.4" text-anchor="end" textLength="26.2" lengthAdjust="spacingAndGlyphs">0.00</text>
<text class="tl" x="132.60" y="270.2" font-size="11.4" text-anchor="middle" textLength="27.4" lengthAdjust="spacingAndGlyphs">0.25</text>
<text class="tl" x="60.6" y="193.98" font-size="11.4" text-anchor="end" textLength="26.2" lengthAdjust="spacingAndGlyphs">0.25</text>
<text class="tl" x="190.90" y="270.2" font-size="11.4" text-anchor="middle" textLength="27.4" lengthAdjust="spacingAndGlyphs">0.50</text>
<text class="tl" x="60.6" y="135.75" font-size="11.4" text-anchor="end" textLength="26.2" lengthAdjust="spacingAndGlyphs">0.50</text>
<text class="tl" x="249.20" y="270.2" font-size="11.4" text-anchor="middle" textLength="27.4" lengthAdjust="spacingAndGlyphs">0.75</text>
<text class="tl" x="60.6" y="77.52" font-size="11.4" text-anchor="end" textLength="26.2" lengthAdjust="spacingAndGlyphs">0.75</text>
<text class="tl" x="307.50" y="270.2" font-size="11.4" text-anchor="middle" textLength="27.4" lengthAdjust="spacingAndGlyphs">1.00</text>
<text class="tl" x="60.6" y="19.30" font-size="11.4" text-anchor="end" textLength="26.2" lengthAdjust="spacingAndGlyphs">1.00</text>
<text class="ti" x="190.5" y="294.6" font-size="15.4" text-anchor="middle" textLength="281" lengthAdjust="spacingAndGlyphs">False positive rate (1 &#8722; specificity)</text>
<text class="ti" transform="translate(18.1,132.3) rotate(-90)" x="0" y="0" font-size="14.8" text-anchor="middle" textLength="244" lengthAdjust="spacingAndGlyphs">True positive rate (sensitivity)</text>
<text class="au" x="184.3" y="193.6" font-size="8.9" textLength="111" lengthAdjust="spacingAndGlyphs">AUC = 0.678 (0.667-0.689)</text>
</g>
<text class="lb" x="427.90" y="364.50" font-size="20.9">TyG-WC</text>
<g transform="translate(660.25,300.85)">
<clipPath id="cp6"><rect x="65.80" y="7.45" width="250.25" height="249.45"/></clipPath>
<g clip-path="url(#cp6)"><line x1="50.98" y1="271.69" x2="330.82" y2="-7.79" stroke="#9A9A9A" stroke-width="1.25"/>
<path d="M74.30,248.40 L74.30,247.22 L74.31,246.40 L74.36,245.72 L74.41,245.10 L74.46,244.52 L74.52,243.96 L74.57,243.43 L74.61,242.92 L74.66,242.42 L74.71,241.94 L74.76,241.48 L74.82,241.02 L74.87,240.58 L74.92,240.15 L74.97,239.72 L75.03,239.31 L75.09,238.90 L75.14,238.51 L75.20,238.12 L75.26,237.74 L75.33,237.36 L75.39,236.99 L75.46,236.63 L75.52,236.27 L75.59,235.92 L75.66,235.58 L75.73,235.24 L75.80,234.90 L75.87,234.57 L75.95,234.24 L76.02,233.92 L76.10,233.60 L76.17,233.29 L76.25,232.98 L76.33,232.67 L76.40,232.37 L76.48,232.07 L76.56,231.77 L76.64,231.48 L76.73,231.19 L76.81,230.90 L76.89,230.62 L76.97,230.34 L77.06,230.06 L77.14,229.78 L77.23,229.51 L77.31,229.24 L77.40,228.97 L77.48,228.70 L77.57,228.44 L77.66,228.18 L77.75,227.92 L77.83,227.66 L77.92,227.41 L78.01,227.15 L78.10,226.90 L78.19,226.65 L78.28,226.40 L78.37,226.15 L78.45,225.91 L78.54,225.66 L78.63,225.42 L78.72,225.18 L78.81,224.94 L78.90,224.70 L78.98,224.46 L79.07,224.22 L79.16,223.98 L79.25,223.75 L79.34,223.52 L79.42,223.28 L79.51,223.05 L79.60,222.82 L79.68,222.59 L79.77,222.36 L79.85,222.13 L79.94,221.90 L80.02,221.67 L80.11,221.45 L80.19,221.22 L80.28,220.99 L80.36,220.77 L80.45,220.55 L80.53,220.32 L80.61,220.10 L80.70,219.88 L80.78,219.66 L80.86,219.44 L80.94,219.21 L81.02,219.00 L81.49,217.72 L81.95,216.47 L82.39,215.22 L82.82,213.98 L83.22,212.75 L83.62,211.52 L84.00,210.29 L84.37,209.08 L84.74,207.89 L85.11,206.71 L85.49,205.55 L85.88,204.42 L86.29,203.33 L86.73,202.28 L87.20,201.27 L87.70,200.31 L88.22,199.38 L88.76,198.48 L89.31,197.60 L89.86,196.73 L90.41,195.87 L90.95,195.02 L91.48,194.16 L92.00,193.30 L92.51,192.44 L93.00,191.57 L93.47,190.69 L93.93,189.81 L94.39,188.93 L94.84,188.06 L95.30,187.20 L95.77,186.36 L96.25,185.53 L96.73,184.72 L97.23,183.92 L97.72,183.13 L98.21,182.35 L98.70,181.57 L99.18,180.79 L99.66,180.01 L100.13,179.23 L100.61,178.46 L101.08,177.69 L101.54,176.93 L102.01,176.16 L102.47,175.40 L102.93,174.65 L103.39,173.89 L103.85,173.15 L104.31,172.41 L104.78,171.68 L105.24,170.95 L105.71,170.23 L106.18,169.52 L106.66,168.82 L107.13,168.12 L107.60,167.42 L108.06,166.72 L108.52,166.02 L108.98,165.32 L109.42,164.61 L109.85,163.90 L110.27,163.17 L110.67,162.43 L111.05,161.68 L111.43,160.93 L111.80,160.17 L112.17,159.42 L112.56,158.68 L112.95,157.96 L113.36,157.26 L113.79,156.58 L114.22,155.91 L114.67,155.25 L115.12,154.61 L115.58,153.97 L116.04,153.34 L116.51,152.72 L116.97,152.10 L117.44,151.48 L117.91,150.87 L118.38,150.27 L118.85,149.67 L119.33,149.08 L119.82,148.50 L120.31,147.93 L120.81,147.36 L121.31,146.81 L121.82,146.27 L122.35,145.74 L122.88,145.22 L123.41,144.71 L123.96,144.21 L124.51,143.72 L125.06,143.23 L125.62,142.75 L126.18,142.28 L126.73,141.80 L127.27,141.31 L127.81,140.82 L128.33,140.33 L128.85,139.82 L129.35,139.30 L129.84,138.78 L130.32,138.24 L130.79,137.70 L131.25,137.16 L131.71,136.61 L132.15,136.05 L132.60,135.49 L133.04,134.93 L133.48,134.37 L133.91,133.82 L134.35,133.26 L134.79,132.71 L135.22,132.16 L135.66,131.61 L136.11,131.07 L136.55,130.53 L136.99,129.99 L137.43,129.45 L137.86,128.91 L138.29,128.37 L138.71,127.81 L139.11,127.25 L139.49,126.66 L139.85,126.05 L140.19,125.43 L140.51,124.79 L140.83,124.15 L141.15,123.51 L141.49,122.90 L141.85,122.30 L142.23,121.73 L142.63,121.19 L143.05,120.65 L143.48,120.13 L143.91,119.63 L144.35,119.12 L144.80,118.63 L145.25,118.14 L145.69,117.65 L146.14,117.16 L146.59,116.67 L147.04,116.19 L147.49,115.71 L147.93,115.22 L148.38,114.74 L148.82,114.26 L149.26,113.78 L149.70,113.29 L150.14,112.81 L150.57,112.33 L151.01,111.84 L151.44,111.36 L151.88,110.88 L152.32,110.41 L152.76,109.94 L153.20,109.47 L153.64,109.01 L154.09,108.55 L154.54,108.09 L154.98,107.64 L155.43,107.18 L155.88,106.73 L156.32,106.28 L156.77,105.83 L157.21,105.37 L157.65,104.92 L158.09,104.46 L158.53,104.01 L158.96,103.56 L159.40,103.10 L159.83,102.65 L160.27,102.20 L160.71,101.76 L161.14,101.31 L161.59,100.87 L162.03,100.43 L162.47,100.00 L162.92,99.57 L163.37,99.14 L163.82,98.72 L164.27,98.29 L164.72,97.87 L165.16,97.45 L165.61,97.02 L166.05,96.60 L166.49,96.17 L166.93,95.75 L167.37,95.32 L167.81,94.90 L168.25,94.48 L168.69,94.06 L169.13,93.65 L169.58,93.24 L170.04,92.84 L170.50,92.44 L170.96,92.05 L171.44,91.67 L171.92,91.30 L172.40,90.94 L172.89,90.58 L173.38,90.22 L173.87,89.87 L174.37,89.52 L174.86,89.16 L175.34,88.81 L175.83,88.45 L176.31,88.09 L176.79,87.73 L177.26,87.36 L177.73,87.00 L178.20,86.63 L178.67,86.27 L179.14,85.90 L179.60,85.53 L180.07,85.17 L180.53,84.80 L180.99,84.44 L181.45,84.07 L181.91,83.70 L182.37,83.34 L182.83,82.97 L183.28,82.60 L183.74,82.24 L184.20,81.87 L184.65,81.51 L185.10,81.14 L185.56,80.78 L186.01,80.42 L186.47,80.06 L186.92,79.70 L187.38,79.34 L187.83,78.98 L188.29,78.62 L188.74,78.27 L189.20,77.91 L189.65,77.56 L190.11,77.21 L190.56,76.86 L191.02,76.52 L191.48,76.17 L191.94,75.83 L192.41,75.49 L192.87,75.15 L193.33,74.82 L193.80,74.48 L194.26,74.15 L194.73,73.82 L195.19,73.49 L195.66,73.17 L196.14,72.84 L196.61,72.52 L197.09,72.21 L197.56,71.90 L198.05,71.59 L198.53,71.28 L199.01,70.98 L199.50,70.68 L199.98,70.38 L200.46,70.07 L200.95,69.77 L201.42,69.47 L201.90,69.16 L202.37,68.85 L202.84,68.54 L203.31,68.23 L203.77,67.92 L204.23,67.60 L204.70,67.29 L205.15,66.97 L205.61,66.65 L206.07,66.34 L206.52,66.02 L206.98,65.70 L207.43,65.38 L207.88,65.06 L208.32,64.74 L208.77,64.41 L209.21,64.09 L209.65,63.77 L210.09,63.44 L210.53,63.12 L210.97,62.79 L211.41,62.47 L211.84,62.14 L212.28,61.82 L212.72,61.49 L213.15,61.17 L213.59,60.85 L214.02,60.52 L214.45,60.20 L214.88,59.87 L215.30,59.54 L215.73,59.21 L216.15,58.88 L216.57,58.55 L216.99,58.21 L217.41,57.88 L217.83,57.55 L218.25,57.23 L218.67,56.91 L219.10,56.59 L219.54,56.28 L219.98,55.98 L220.43,55.68 L220.88,55.39 L221.33,55.10 L221.79,54.82 L222.26,54.54 L222.72,54.27 L223.19,53.99 L223.65,53.72 L224.12,53.45 L224.59,53.18 L225.05,52.91 L225.51,52.63 L225.97,52.36 L226.43,52.08 L226.88,51.81 L227.33,51.52 L227.78,51.24 L228.22,50.96 L228.66,50.67 L229.10,50.38 L229.53,50.08 L229.96,49.78 L230.39,49.48 L230.81,49.18 L231.23,48.88 L231.64,48.57 L232.05,48.26 L232.46,47.94 L232.87,47.63 L233.28,47.32 L233.69,47.01 L234.09,46.70 L234.50,46.39 L234.92,46.08 L235.33,45.78 L235.75,45.49 L236.17,45.19 L236.59,44.90 L237.01,44.61 L237.43,44.32 L237.86,44.03 L238.28,43.75 L238.70,43.46 L239.13,43.17 L239.55,42.89 L239.97,42.60 L240.38,42.31 L240.80,42.02 L241.21,41.73 L241.63,41.44 L242.04,41.15 L242.45,40.85 L242.86,40.56 L243.27,40.27 L243.68,39.98 L244.09,39.69 L244.50,39.40 L244.91,39.12 L245.32,38.84 L245.74,38.56 L246.16,38.28 L246.59,38.01 L247.02,37.75 L247.45,37.49 L247.89,37.24 L248.34,36.99 L248.79,36.75 L249.24,36.52 L249.71,36.29 L250.17,36.07 L250.65,35.86 L251.13,35.65 L251.61,35.45 L252.10,35.25 L252.59,35.06 L253.09,34.88 L253.59,34.70 L254.09,34.52 L254.60,34.34 L255.10,34.16 L255.61,33.99 L256.11,33.81 L256.61,33.64 L257.11,33.46 L257.61,33.28 L258.10,33.10 L258.60,32.92 L259.08,32.73 L259.57,32.54 L260.05,32.36 L260.53,32.16 L261.01,31.97 L261.49,31.78 L261.96,31.58 L262.43,31.38 L262.90,31.18 L263.37,30.98 L263.83,30.78 L264.29,30.58 L264.75,30.37 L265.21,30.17 L265.66,29.96 L266.11,29.74 L266.56,29.53 L267.00,29.31 L267.44,29.09 L267.87,28.87 L268.30,28.64 L268.73,28.41 L269.16,28.18 L269.58,27.95 L270.01,27.72 L270.43,27.49 L270.85,27.25 L271.27,27.02 L271.69,26.79 L272.11,26.57 L272.54,26.34 L272.96,26.12 L273.39,25.89 L273.82,25.67 L274.25,25.46 L274.68,25.24 L275.11,25.03 L275.55,24.82 L275.98,24.62 L276.42,24.42 L276.87,24.22 L277.31,24.02 L277.76,23.83 L278.21,23.64 L278.66,23.46 L279.12,23.28 L279.58,23.10 L280.04,22.93 L280.50,22.75 L280.96,22.58 L281.43,22.42 L281.89,22.25 L282.36,22.09 L282.83,21.92 L283.29,21.76 L283.76,21.60 L284.23,21.44 L284.70,21.28 L285.16,21.13 L285.63,20.97 L286.10,20.81 L286.56,20.66 L287.03,20.50 L287.49,20.34 L287.96,20.19 L288.42,20.04 L288.88,19.88 L289.35,19.73 L289.81,19.58 L290.27,19.43 L290.74,19.28 L291.20,19.13 L291.66,18.98 L292.13,18.84 L292.59,18.69 L293.06,18.55 L293.52,18.41 L293.99,18.27 L294.46,18.14 L294.93,18.01 L295.40,17.88 L295.88,17.75 L296.35,17.63 L296.83,17.51 L297.31,17.39 L297.79,17.28 L298.28,17.17 L298.76,17.06 L299.25,16.96 L299.73,16.86 L300.22,16.76 L300.71,16.66 L301.20,16.56 L301.69,16.47 L302.17,16.37 L302.66,16.28 L303.14,16.19 L303.62,16.09 L304.10,16.00 L304.58,15.91 L305.05,15.82 L305.53,15.73 L306.01,15.66 L306.52,15.61 L307.01,15.55 L307.50,15.50 L307.50,15.50" fill="none" stroke="#E31B0D" stroke-width="1.4" stroke-linejoin="round" stroke-linecap="round"/></g>
<rect x="65.80" y="7.45" width="250.25" height="249.45" fill="none" stroke="#000" stroke-width="2.1"/>
<path d="M74.30,257.95V259.90M64.75,248.40H62.80M132.60,257.95V259.90M64.75,190.18H62.80M190.90,257.95V259.90M64.75,131.95H62.80M249.20,257.95V259.90M64.75,73.72H62.80M307.50,257.95V259.90M64.75,15.50H62.80" stroke="#222" stroke-width="1.1"/>
<text class="tl" x="74.30" y="270.2" font-size="11.4" text-anchor="middle" textLength="27.4" lengthAdjust="spacingAndGlyphs">0.00</text>
<text class="tl" x="60.6" y="252.20" font-size="11.4" text-anchor="end" textLength="26.2" lengthAdjust="spacingAndGlyphs">0.00</text>
<text class="tl" x="132.60" y="270.2" font-size="11.4" text-anchor="middle" textLength="27.4" lengthAdjust="spacingAndGlyphs">0.25</text>
<text class="tl" x="60.6" y="193.98" font-size="11.4" text-anchor="end" textLength="26.2" lengthAdjust="spacingAndGlyphs">0.25</text>
<text class="tl" x="190.90" y="270.2" font-size="11.4" text-anchor="middle" textLength="27.4" lengthAdjust="spacingAndGlyphs">0.50</text>
<text class="tl" x="60.6" y="135.75" font-size="11.4" text-anchor="end" textLength="26.2" lengthAdjust="spacingAndGlyphs">0.50</text>
<text class="tl" x="249.20" y="270.2" font-size="11.4" text-anchor="middle" textLength="27.4" lengthAdjust="spacingAndGlyphs">0.75</text>
<text class="tl" x="60.6" y="77.52" font-size="11.4" text-anchor="end" textLength="26.2" lengthAdjust="spacingAndGlyphs">0.75</text>
<text class="tl" x="307.50" y="270.2" font-size="11.4" text-anchor="middle" textLength="27.4" lengthAdjust="spacingAndGlyphs">1.00</text>
<text class="tl" x="60.6" y="19.30" font-size="11.4" text-anchor="end" textLength="26.2" lengthAdjust="spacingAndGlyphs">1.00</text>
<text class="ti" x="190.5" y="294.6" font-size="15.4" text-anchor="middle" textLength="281" lengthAdjust="spacingAndGlyphs">False positive rate (1 &#8722; specificity)</text>
<text class="ti" transform="translate(18.1,132.3) rotate(-90)" x="0" y="0" font-size="14.8" text-anchor="middle" textLength="244" lengthAdjust="spacingAndGlyphs">True positive rate (sensitivity)</text>
<text class="au" x="184.3" y="193.6" font-size="8.9" textLength="111" lengthAdjust="spacingAndGlyphs">AUC = 0.679 (0.668-0.690)</text>
</g>
<text class="lb" x="750.30" y="364.80" font-size="20.9">TyG-BMI</text>
<g transform="translate(990.55,300.85)">
<clipPath id="cp7"><rect x="65.80" y="7.45" width="250.25" height="249.45"/></clipPath>
<g clip-path="url(#cp7)"><line x1="50.98" y1="271.69" x2="330.82" y2="-7.79" stroke="#9A9A9A" stroke-width="1.25"/>
<path d="M74.30,248.40 L74.31,247.20 L74.33,246.38 L74.39,245.69 L74.44,245.06 L74.50,244.47 L74.56,243.92 L74.62,243.38 L74.68,242.87 L74.73,242.38 L74.79,241.90 L74.85,241.43 L74.91,240.98 L74.96,240.53 L75.02,240.10 L75.08,239.68 L75.14,239.26 L75.20,238.86 L75.27,238.46 L75.33,238.06 L75.39,237.68 L75.46,237.30 L75.52,236.93 L75.59,236.56 L75.66,236.20 L75.72,235.85 L75.79,235.50 L75.86,235.15 L75.93,234.81 L76.00,234.47 L76.07,234.14 L76.14,233.81 L76.21,233.48 L76.28,233.16 L76.35,232.84 L76.43,232.52 L76.50,232.21 L76.57,231.90 L76.64,231.59 L76.71,231.28 L76.79,230.98 L76.86,230.68 L76.93,230.39 L77.01,230.09 L77.08,229.80 L77.15,229.51 L77.23,229.22 L77.30,228.94 L77.37,228.65 L77.45,228.37 L77.52,228.09 L77.60,227.82 L77.67,227.54 L77.75,227.27 L77.83,227.00 L77.90,226.73 L77.98,226.46 L78.06,226.20 L78.13,225.93 L78.21,225.67 L78.29,225.41 L78.37,225.15 L78.44,224.90 L78.52,224.64 L78.60,224.39 L78.68,224.14 L78.76,223.89 L78.84,223.64 L78.92,223.39 L79.00,223.15 L79.08,222.90 L79.16,222.66 L79.23,222.42 L79.31,222.18 L79.39,221.94 L79.48,221.70 L79.56,221.46 L79.64,221.23 L79.72,220.99 L79.80,220.76 L79.88,220.52 L79.96,220.29 L80.04,220.06 L80.12,219.83 L80.20,219.60 L80.28,219.37 L80.36,219.15 L80.44,218.92 L80.52,218.70 L80.59,218.47 L80.67,218.25 L81.13,216.95 L81.58,215.68 L82.03,214.43 L82.48,213.20 L82.92,211.99 L83.38,210.82 L83.84,209.67 L84.31,208.54 L84.78,207.44 L85.25,206.35 L85.72,205.28 L86.19,204.22 L86.65,203.18 L87.11,202.14 L87.57,201.11 L88.03,200.10 L88.48,199.09 L88.92,198.09 L89.37,197.11 L89.82,196.13 L90.27,195.17 L90.73,194.22 L91.19,193.29 L91.67,192.39 L92.16,191.50 L92.66,190.64 L93.17,189.79 L93.69,188.97 L94.23,188.16 L94.77,187.38 L95.32,186.60 L95.87,185.84 L96.42,185.08 L96.96,184.32 L97.49,183.56 L98.01,182.80 L98.52,182.02 L99.02,181.25 L99.50,180.47 L99.98,179.68 L100.45,178.90 L100.91,178.11 L101.36,177.32 L101.81,176.53 L102.25,175.74 L102.68,174.95 L103.11,174.16 L103.54,173.37 L103.95,172.58 L104.36,171.78 L104.75,170.98 L105.14,170.17 L105.52,169.37 L105.90,168.56 L106.29,167.77 L106.68,166.99 L107.08,166.22 L107.49,165.46 L107.90,164.72 L108.33,163.99 L108.77,163.27 L109.22,162.57 L109.68,161.88 L110.15,161.22 L110.63,160.56 L111.12,159.92 L111.62,159.29 L112.13,158.67 L112.63,158.06 L113.14,157.45 L113.65,156.84 L114.15,156.24 L114.66,155.64 L115.16,155.03 L115.65,154.43 L116.14,153.82 L116.63,153.22 L117.11,152.61 L117.59,152.00 L118.07,151.40 L118.54,150.79 L119.02,150.19 L119.49,149.59 L119.97,148.99 L120.44,148.40 L120.93,147.82 L121.41,147.25 L121.91,146.68 L122.40,146.12 L122.90,145.57 L123.39,145.01 L123.89,144.46 L124.38,143.91 L124.87,143.35 L125.35,142.80 L125.84,142.25 L126.32,141.70 L126.81,141.15 L127.29,140.61 L127.77,140.06 L128.25,139.52 L128.72,138.97 L129.19,138.42 L129.65,137.87 L130.11,137.31 L130.56,136.75 L131.00,136.18 L131.44,135.62 L131.88,135.06 L132.32,134.49 L132.75,133.93 L133.19,133.36 L133.62,132.80 L134.04,132.23 L134.46,131.66 L134.88,131.09 L135.29,130.51 L135.69,129.94 L136.09,129.36 L136.49,128.78 L136.90,128.20 L137.30,127.63 L137.71,127.07 L138.12,126.51 L138.54,125.96 L138.95,125.40 L139.37,124.85 L139.78,124.30 L140.19,123.76 L140.61,123.21 L141.02,122.67 L141.44,122.14 L141.87,121.61 L142.29,121.08 L142.72,120.56 L143.16,120.05 L143.59,119.53 L144.02,119.02 L144.45,118.51 L144.88,118.00 L145.31,117.49 L145.74,116.98 L146.16,116.48 L146.59,115.97 L147.02,115.47 L147.45,114.97 L147.89,114.47 L148.32,113.98 L148.76,113.50 L149.20,113.01 L149.64,112.54 L150.09,112.06 L150.53,111.59 L150.98,111.12 L151.44,110.66 L151.89,110.21 L152.36,109.76 L152.82,109.31 L153.29,108.87 L153.76,108.43 L154.23,108.00 L154.70,107.57 L155.17,107.14 L155.64,106.71 L156.11,106.28 L156.57,105.84 L157.03,105.41 L157.49,104.97 L157.93,104.52 L158.38,104.07 L158.82,103.62 L159.25,103.17 L159.68,102.71 L160.11,102.26 L160.54,101.80 L160.97,101.35 L161.40,100.90 L161.84,100.45 L162.27,100.01 L162.71,99.58 L163.16,99.14 L163.61,98.72 L164.06,98.30 L164.52,97.89 L164.98,97.48 L165.44,97.07 L165.91,96.67 L166.38,96.27 L166.85,95.88 L167.33,95.49 L167.81,95.11 L168.28,94.73 L168.76,94.34 L169.24,93.96 L169.71,93.58 L170.18,93.19 L170.65,92.80 L171.11,92.41 L171.57,92.02 L172.03,91.63 L172.48,91.23 L172.93,90.83 L173.38,90.43 L173.83,90.04 L174.27,89.64 L174.71,89.24 L175.16,88.84 L175.61,88.44 L176.05,88.05 L176.50,87.66 L176.95,87.27 L177.40,86.89 L177.85,86.51 L178.31,86.13 L178.76,85.75 L179.22,85.38 L179.68,85.00 L180.14,84.63 L180.59,84.26 L181.05,83.89 L181.51,83.52 L181.96,83.15 L182.41,82.78 L182.86,82.41 L183.31,82.04 L183.76,81.66 L184.21,81.29 L184.65,80.91 L185.09,80.54 L185.53,80.16 L185.97,79.79 L186.41,79.42 L186.85,79.04 L187.29,78.67 L187.73,78.30 L188.17,77.93 L188.61,77.56 L189.05,77.20 L189.49,76.83 L189.92,76.46 L190.36,76.09 L190.79,75.72 L191.22,75.35 L191.65,74.97 L192.07,74.60 L192.50,74.23 L192.93,73.86 L193.37,73.50 L193.80,73.14 L194.25,72.79 L194.70,72.45 L195.15,72.11 L195.61,71.77 L196.08,71.45 L196.55,71.13 L197.02,70.82 L197.50,70.51 L197.99,70.21 L198.48,69.92 L198.98,69.63 L199.48,69.35 L199.98,69.06 L200.48,68.78 L200.98,68.50 L201.47,68.21 L201.96,67.92 L202.45,67.63 L202.93,67.34 L203.41,67.04 L203.90,66.75 L204.38,66.46 L204.86,66.17 L205.35,65.88 L205.83,65.59 L206.31,65.31 L206.79,65.02 L207.27,64.73 L207.74,64.43 L208.20,64.12 L208.66,63.81 L209.10,63.49 L209.53,63.16 L209.96,62.82 L210.37,62.47 L210.78,62.12 L211.19,61.77 L211.59,61.41 L211.99,61.05 L212.40,60.70 L212.81,60.35 L213.22,60.01 L213.64,59.68 L214.07,59.35 L214.50,59.03 L214.94,58.72 L215.38,58.41 L215.83,58.11 L216.28,57.80 L216.73,57.51 L217.18,57.21 L217.63,56.91 L218.09,56.62 L218.54,56.33 L218.99,56.03 L219.44,55.74 L219.89,55.45 L220.34,55.16 L220.79,54.87 L221.24,54.58 L221.69,54.29 L222.14,54.00 L222.59,53.71 L223.04,53.42 L223.48,53.13 L223.93,52.84 L224.37,52.55 L224.81,52.25 L225.25,51.96 L225.69,51.67 L226.12,51.37 L226.56,51.08 L226.99,50.78 L227.43,50.49 L227.86,50.19 L228.29,49.90 L228.72,49.61 L229.16,49.31 L229.59,49.02 L230.02,48.73 L230.45,48.43 L230.87,48.14 L231.30,47.85 L231.73,47.55 L232.15,47.26 L232.58,46.96 L233.00,46.67 L233.43,46.38 L233.85,46.09 L234.28,45.80 L234.71,45.52 L235.14,45.23 L235.58,44.96 L236.02,44.68 L236.46,44.41 L236.90,44.15 L237.35,43.89 L237.80,43.63 L238.25,43.37 L238.71,43.12 L239.17,42.87 L239.63,42.63 L240.09,42.39 L240.55,42.14 L241.02,41.90 L241.48,41.66 L241.94,41.43 L242.41,41.19 L242.87,40.96 L243.34,40.72 L243.80,40.49 L244.27,40.25 L244.73,40.02 L245.19,39.79 L245.65,39.55 L246.12,39.32 L246.58,39.09 L247.04,38.86 L247.50,38.62 L247.95,38.39 L248.41,38.16 L248.87,37.92 L249.32,37.69 L249.77,37.45 L250.22,37.21 L250.67,36.98 L251.12,36.74 L251.56,36.50 L252.01,36.25 L252.45,36.01 L252.89,35.77 L253.33,35.53 L253.76,35.28 L254.20,35.04 L254.64,34.80 L255.07,34.56 L255.51,34.31 L255.95,34.08 L256.39,33.84 L256.83,33.60 L257.27,33.37 L257.71,33.14 L258.16,32.91 L258.60,32.68 L259.05,32.46 L259.50,32.24 L259.95,32.02 L260.41,31.80 L260.86,31.59 L261.31,31.38 L261.77,31.17 L262.23,30.96 L262.69,30.75 L263.14,30.54 L263.60,30.34 L264.06,30.13 L264.52,29.93 L264.97,29.72 L265.43,29.52 L265.88,29.31 L266.34,29.11 L266.79,28.90 L267.24,28.69 L267.68,28.48 L268.13,28.28 L268.58,28.07 L269.02,27.86 L269.47,27.65 L269.91,27.44 L270.35,27.23 L270.80,27.02 L271.24,26.82 L271.68,26.61 L272.13,26.41 L272.58,26.21 L273.02,26.01 L273.47,25.81 L273.92,25.62 L274.38,25.43 L274.83,25.24 L275.28,25.05 L275.74,24.87 L276.20,24.68 L276.66,24.50 L277.12,24.32 L277.58,24.14 L278.04,23.97 L278.50,23.80 L278.97,23.62 L279.43,23.45 L279.89,23.29 L280.36,23.12 L280.83,22.95 L281.29,22.79 L281.76,22.62 L282.22,22.46 L282.68,22.29 L283.15,22.13 L283.61,21.97 L284.08,21.80 L284.54,21.64 L285.00,21.48 L285.46,21.32 L285.92,21.16 L286.39,21.00 L286.85,20.84 L287.31,20.69 L287.77,20.53 L288.24,20.38 L288.70,20.23 L289.17,20.08 L289.63,19.93 L290.10,19.79 L290.57,19.64 L291.04,19.50 L291.51,19.37 L291.99,19.23 L292.46,19.10 L292.94,18.97 L293.42,18.85 L293.90,18.72 L294.38,18.60 L294.86,18.48 L295.34,18.36 L295.83,18.25 L296.31,18.13 L296.79,18.02 L297.28,17.91 L297.76,17.79 L298.24,17.68 L298.71,17.57 L299.19,17.45 L299.66,17.34 L300.13,17.22 L300.60,17.10 L301.06,16.98 L301.53,16.86 L301.99,16.75 L302.45,16.63 L302.90,16.51 L303.36,16.39 L303.81,16.27 L304.27,16.16 L304.72,16.04 L305.18,15.93 L305.63,15.82 L306.09,15.73 L306.56,15.64 L307.03,15.57 L307.50,15.50 L307.50,15.50" fill="none" stroke="#E31B0D" stroke-width="1.4" stroke-linejoin="round" stroke-linecap="round"/></g>
<rect x="65.80" y="7.45" width="250.25" height="249.45" fill="none" stroke="#000" stroke-width="2.1"/>
<path d="M74.30,257.95V259.90M64.75,248.40H62.80M132.60,257.95V259.90M64.75,190.18H62.80M190.90,257.95V259.90M64.75,131.95H62.80M249.20,257.95V259.90M64.75,73.72H62.80M307.50,257.95V259.90M64.75,15.50H62.80" stroke="#222" stroke-width="1.1"/>
<text class="tl" x="74.30" y="270.2" font-size="11.4" text-anchor="middle" textLength="27.4" lengthAdjust="spacingAndGlyphs">0.00</text>
<text class="tl" x="60.6" y="252.20" font-size="11.4" text-anchor="end" textLength="26.2" lengthAdjust="spacingAndGlyphs">0.00</text>
<text class="tl" x="132.60" y="270.2" font-size="11.4" text-anchor="middle" textLength="27.4" lengthAdjust="spacingAndGlyphs">0.25</text>
<text class="tl" x="60.6" y="193.98" font-size="11.4" text-anchor="end" textLength="26.2" lengthAdjust="spacingAndGlyphs">0.25</text>
<text class="tl" x="190.90" y="270.2" font-size="11.4" text-anchor="middle" textLength="27.4" lengthAdjust="spacingAndGlyphs">0.50</text>
<text class="tl" x="60.6" y="135.75" font-size="11.4" text-anchor="end" textLength="26.2" lengthAdjust="spacingAndGlyphs">0.50</text>
<text class="tl" x="249.20" y="270.2" font-size="11.4" text-anchor="middle" textLength="27.4" lengthAdjust="spacingAndGlyphs">0.75</text>
<text class="tl" x="60.6" y="77.52" font-size="11.4" text-anchor="end" textLength="26.2" lengthAdjust="spacingAndGlyphs">0.75</text>
<text class="tl" x="307.50" y="270.2" font-size="11.4" text-anchor="middle" textLength="27.4" lengthAdjust="spacingAndGlyphs">1.00</text>
<text class="tl" x="60.6" y="19.30" font-size="11.4" text-anchor="end" textLength="26.2" lengthAdjust="spacingAndGlyphs">1.00</text>
<text class="ti" x="190.5" y="294.6" font-size="15.4" text-anchor="middle" textLength="281" lengthAdjust="spacingAndGlyphs">False positive rate (1 &#8722; specificity)</text>
<text class="ti" transform="translate(18.1,132.3) rotate(-90)" x="0" y="0" font-size="14.8" text-anchor="middle" textLength="244" lengthAdjust="spacingAndGlyphs">True positive rate (sensitivity)</text>
<text class="au" x="184.3" y="193.6" font-size="8.9" textLength="111" lengthAdjust="spacingAndGlyphs">AUC = 0.680 (0.669-0.691)</text>
</g>
<text class="lb" x="1080.00" y="364.50" font-size="20.9">TyG-WHtR</text>
</svg></body></html>
